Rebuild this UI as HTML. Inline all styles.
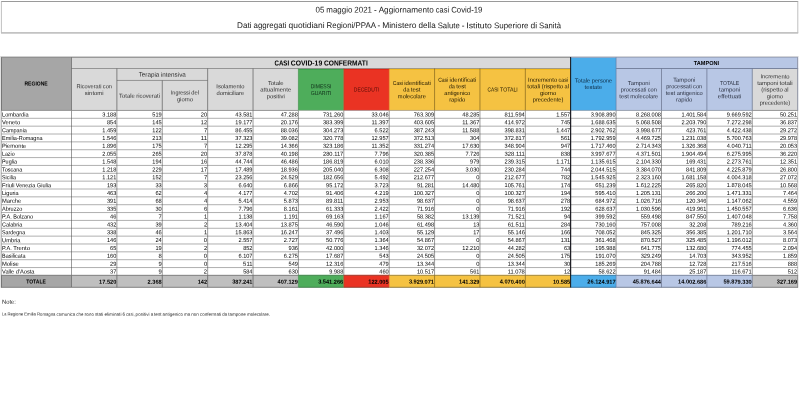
<!DOCTYPE html>
<html lang="it"><head><meta charset="utf-8"><title>Aggiornamento casi Covid-19</title>
<style>
html,body{margin:0;padding:0;background:#fff;}
body{width:800px;height:400px;overflow:hidden;}
svg{display:block;will-change:transform;font-family:"Liberation Sans",sans-serif;}
</style></head><body>
<svg width="800" height="400" viewBox="0 0 800 400">
<rect x="0" y="0" width="800" height="400" fill="#fff"/>
<line x1="1.00" y1="1.50" x2="798.20" y2="1.50" stroke="#8f8f8f" stroke-width="0.9"/>
<line x1="1.00" y1="32.95" x2="798.20" y2="32.95" stroke="#8f8f8f" stroke-width="0.95"/>
<line x1="1.40" y1="1.50" x2="1.40" y2="32.95" stroke="#bdbdbd" stroke-width="0.95"/>
<line x1="797.80" y1="1.50" x2="797.80" y2="32.95" stroke="#bdbdbd" stroke-width="0.95"/>
<text y="12.50" transform="rotate(.05 399.0 12.5)" font-size="8.22" fill="#1a1a1a"><tspan x="315.52" textLength="8.86" lengthAdjust="spacingAndGlyphs">05</tspan> <tspan x="326.36" textLength="26.01" lengthAdjust="spacingAndGlyphs">maggio</tspan> <tspan x="354.35" textLength="17.72" lengthAdjust="spacingAndGlyphs">2021</tspan> <tspan x="374.05">-</tspan> <tspan x="378.70" textLength="55.18" lengthAdjust="spacingAndGlyphs">Aggiornamento</tspan> <tspan x="435.86" textLength="13.30" lengthAdjust="spacingAndGlyphs">casi</tspan> <tspan x="451.13" textLength="31.34" lengthAdjust="spacingAndGlyphs">Covid-19</tspan></text>
<text y="28.10" transform="rotate(.05 399.0 28.1)" font-size="8.22" fill="#1a1a1a"><tspan x="237.03" textLength="14.49" lengthAdjust="spacingAndGlyphs">Dati</tspan> <tspan x="253.50" textLength="33.05" lengthAdjust="spacingAndGlyphs">aggregati</tspan> <tspan x="288.53" textLength="36.08" lengthAdjust="spacingAndGlyphs">quotidiani</tspan> <tspan x="326.58" textLength="48.94" lengthAdjust="spacingAndGlyphs">Regioni/PPAA</tspan> <tspan x="377.50">-</tspan> <tspan x="382.15" textLength="34.42" lengthAdjust="spacingAndGlyphs">Ministero</tspan> <tspan x="418.55" textLength="17.13" lengthAdjust="spacingAndGlyphs">della</tspan> <tspan x="437.65" textLength="22.07" lengthAdjust="spacingAndGlyphs">Salute</tspan> <tspan x="461.70">-</tspan> <tspan x="466.35" textLength="25.60" lengthAdjust="spacingAndGlyphs">Istituto</tspan> <tspan x="493.92" textLength="34.60" lengthAdjust="spacingAndGlyphs">Superiore</tspan> <tspan x="530.50" textLength="6.59" lengthAdjust="spacingAndGlyphs">di</tspan> <tspan x="539.06" textLength="21.90" lengthAdjust="spacingAndGlyphs">Sanità</tspan></text>
<line x1="0.50" y1="57.00" x2="0.50" y2="287.80" stroke="#e2e2e2" stroke-width="1.0"/>
<line x1="0.00" y1="56.50" x2="798.60" y2="56.50" stroke="#dedede" stroke-width="1.0"/>
<rect x="1.00" y="57.40" width="70.50" height="52.60" fill="#A6A6A6"/>
<rect x="71.50" y="57.40" width="499.23" height="11.10" fill="#D9D9D9"/>
<rect x="71.50" y="68.50" width="226.92" height="41.50" fill="#D9D9D9"/>
<rect x="298.42" y="68.95" width="45.38" height="41.05" fill="#4EAD5B"/>
<rect x="343.81" y="68.95" width="45.38" height="41.05" fill="#EA3323"/>
<rect x="389.19" y="68.95" width="181.54" height="41.05" fill="#F5C242"/>
<rect x="570.73" y="57.40" width="45.38" height="52.60" fill="#4BADEA"/>
<rect x="616.11" y="57.40" width="181.99" height="52.60" fill="#B8C7E5"/>
<rect x="752.27" y="68.50" width="45.83" height="41.50" fill="#D9D9D9"/>
<rect x="1.00" y="274.85" width="70.50" height="12.45" fill="#A6A6A6"/>
<rect x="71.50" y="274.85" width="226.92" height="12.45" fill="#BFBFBF"/>
<rect x="298.42" y="274.85" width="45.38" height="12.45" fill="#4EAD5B"/>
<rect x="343.81" y="274.85" width="45.38" height="12.45" fill="#EA3323"/>
<rect x="389.19" y="274.85" width="181.54" height="12.45" fill="#F5C242"/>
<rect x="570.73" y="274.85" width="45.38" height="12.45" fill="#4BADEA"/>
<rect x="616.11" y="274.85" width="136.15" height="12.45" fill="#B8C7E5"/>
<rect x="752.27" y="274.85" width="45.83" height="12.45" fill="#BFBFBF"/>
<line x1="1.00" y1="118.30" x2="798.10" y2="118.30" stroke="#959595" stroke-width="0.75"/>
<line x1="1.00" y1="126.16" x2="798.10" y2="126.16" stroke="#959595" stroke-width="0.75"/>
<line x1="1.00" y1="134.01" x2="798.10" y2="134.01" stroke="#959595" stroke-width="0.75"/>
<line x1="1.00" y1="141.87" x2="798.10" y2="141.87" stroke="#959595" stroke-width="0.75"/>
<line x1="1.00" y1="149.72" x2="798.10" y2="149.72" stroke="#959595" stroke-width="0.75"/>
<line x1="1.00" y1="157.58" x2="798.10" y2="157.58" stroke="#959595" stroke-width="0.75"/>
<line x1="1.00" y1="165.43" x2="798.10" y2="165.43" stroke="#959595" stroke-width="0.75"/>
<line x1="1.00" y1="173.29" x2="798.10" y2="173.29" stroke="#959595" stroke-width="0.75"/>
<line x1="1.00" y1="181.14" x2="798.10" y2="181.14" stroke="#959595" stroke-width="0.75"/>
<line x1="1.00" y1="189.00" x2="798.10" y2="189.00" stroke="#959595" stroke-width="0.75"/>
<line x1="1.00" y1="196.85" x2="798.10" y2="196.85" stroke="#959595" stroke-width="0.75"/>
<line x1="1.00" y1="204.71" x2="798.10" y2="204.71" stroke="#959595" stroke-width="0.75"/>
<line x1="1.00" y1="212.56" x2="798.10" y2="212.56" stroke="#959595" stroke-width="0.75"/>
<line x1="1.00" y1="220.42" x2="798.10" y2="220.42" stroke="#959595" stroke-width="0.75"/>
<line x1="1.00" y1="228.27" x2="798.10" y2="228.27" stroke="#959595" stroke-width="0.75"/>
<line x1="1.00" y1="236.13" x2="798.10" y2="236.13" stroke="#959595" stroke-width="0.75"/>
<line x1="1.00" y1="243.98" x2="798.10" y2="243.98" stroke="#959595" stroke-width="0.75"/>
<line x1="1.00" y1="251.84" x2="798.10" y2="251.84" stroke="#959595" stroke-width="0.75"/>
<line x1="1.00" y1="259.69" x2="798.10" y2="259.69" stroke="#959595" stroke-width="0.75"/>
<line x1="1.00" y1="267.55" x2="798.10" y2="267.55" stroke="#959595" stroke-width="0.75"/>
<line x1="1.50" y1="110.45" x2="1.50" y2="275.40" stroke="#8a8a8a" stroke-width="0.55"/>
<line x1="71.50" y1="110.45" x2="71.50" y2="275.40" stroke="#4a4a4a" stroke-width="0.55"/>
<line x1="116.88" y1="110.45" x2="116.88" y2="275.40" stroke="#4a4a4a" stroke-width="0.55"/>
<line x1="162.27" y1="110.45" x2="162.27" y2="275.40" stroke="#4a4a4a" stroke-width="0.55"/>
<line x1="207.65" y1="110.45" x2="207.65" y2="275.40" stroke="#4a4a4a" stroke-width="0.55"/>
<line x1="253.04" y1="110.45" x2="253.04" y2="275.40" stroke="#4a4a4a" stroke-width="0.55"/>
<line x1="298.42" y1="110.45" x2="298.42" y2="275.40" stroke="#4a4a4a" stroke-width="0.55"/>
<line x1="343.81" y1="110.45" x2="343.81" y2="275.40" stroke="#4a4a4a" stroke-width="0.55"/>
<line x1="389.19" y1="110.45" x2="389.19" y2="275.40" stroke="#4a4a4a" stroke-width="0.55"/>
<line x1="434.57" y1="110.45" x2="434.57" y2="275.40" stroke="#4a4a4a" stroke-width="0.55"/>
<line x1="479.96" y1="110.45" x2="479.96" y2="275.40" stroke="#4a4a4a" stroke-width="0.55"/>
<line x1="525.34" y1="110.45" x2="525.34" y2="275.40" stroke="#4a4a4a" stroke-width="0.55"/>
<line x1="570.73" y1="110.45" x2="570.73" y2="275.40" stroke="#4a4a4a" stroke-width="0.55"/>
<line x1="616.11" y1="110.45" x2="616.11" y2="275.40" stroke="#4a4a4a" stroke-width="0.55"/>
<line x1="661.50" y1="110.45" x2="661.50" y2="275.40" stroke="#4a4a4a" stroke-width="0.55"/>
<line x1="706.88" y1="110.45" x2="706.88" y2="275.40" stroke="#4a4a4a" stroke-width="0.55"/>
<line x1="752.27" y1="110.45" x2="752.27" y2="275.40" stroke="#4a4a4a" stroke-width="0.55"/>
<line x1="797.65" y1="110.45" x2="797.65" y2="275.40" stroke="#8a8a8a" stroke-width="0.55"/>
<line x1="1.00" y1="57.35" x2="570.73" y2="57.35" stroke="#808080" stroke-width="0.9"/>
<line x1="570.73" y1="57.35" x2="798.10" y2="57.35" stroke="#8f9bb5" stroke-width="0.9"/>
<line x1="1.00" y1="110.45" x2="71.50" y2="110.45" stroke="#8a8a8a" stroke-width="0.9"/>
<line x1="71.50" y1="110.45" x2="298.42" y2="110.45" stroke="#8a8a8a" stroke-width="0.9"/>
<line x1="298.42" y1="110.45" x2="343.81" y2="110.45" stroke="#8fa890" stroke-width="0.9"/>
<line x1="343.81" y1="110.45" x2="389.19" y2="110.45" stroke="#b08080" stroke-width="0.9"/>
<line x1="389.19" y1="110.45" x2="570.73" y2="110.45" stroke="#b0a080" stroke-width="0.9"/>
<line x1="570.73" y1="110.45" x2="616.11" y2="110.45" stroke="#7f9fb8" stroke-width="0.9"/>
<line x1="616.11" y1="110.45" x2="752.27" y2="110.45" stroke="#8f98a8" stroke-width="0.9"/>
<line x1="752.27" y1="110.45" x2="798.10" y2="110.45" stroke="#8a8a8a" stroke-width="0.9"/>
<line x1="1.00" y1="275.40" x2="71.50" y2="275.40" stroke="#808080" stroke-width="0.9"/>
<line x1="71.50" y1="275.40" x2="298.42" y2="275.40" stroke="#808080" stroke-width="0.9"/>
<line x1="298.42" y1="275.40" x2="343.81" y2="275.40" stroke="#4f8a58" stroke-width="0.9"/>
<line x1="343.81" y1="275.40" x2="389.19" y2="275.40" stroke="#a0483c" stroke-width="0.9"/>
<line x1="389.19" y1="275.40" x2="570.73" y2="275.40" stroke="#a08a48" stroke-width="0.9"/>
<line x1="570.73" y1="275.40" x2="616.11" y2="275.40" stroke="#3f80a8" stroke-width="0.9"/>
<line x1="616.11" y1="275.40" x2="752.27" y2="275.40" stroke="#7f8aa0" stroke-width="0.9"/>
<line x1="752.27" y1="275.40" x2="798.10" y2="275.40" stroke="#808080" stroke-width="0.9"/>
<line x1="1.00" y1="287.30" x2="71.50" y2="287.30" stroke="#777" stroke-width="0.9"/>
<line x1="71.50" y1="287.30" x2="298.42" y2="287.30" stroke="#777" stroke-width="0.9"/>
<line x1="298.42" y1="287.30" x2="343.81" y2="287.30" stroke="#3f7a48" stroke-width="0.9"/>
<line x1="343.81" y1="287.30" x2="389.19" y2="287.30" stroke="#8a3c30" stroke-width="0.9"/>
<line x1="389.19" y1="287.30" x2="570.73" y2="287.30" stroke="#8a7438" stroke-width="0.9"/>
<line x1="570.73" y1="287.30" x2="616.11" y2="287.30" stroke="#35709a" stroke-width="0.9"/>
<line x1="616.11" y1="287.30" x2="752.27" y2="287.30" stroke="#6f7a90" stroke-width="0.9"/>
<line x1="752.27" y1="287.30" x2="798.10" y2="287.30" stroke="#777" stroke-width="0.9"/>
<line x1="71.50" y1="68.50" x2="570.73" y2="68.50" stroke="#8c8c8c" stroke-width="0.9"/>
<line x1="298.42" y1="69.30" x2="343.81" y2="69.30" stroke="#2f9a40" stroke-width="0.7"/>
<line x1="343.81" y1="69.30" x2="389.19" y2="69.30" stroke="#e01a0c" stroke-width="0.7"/>
<line x1="389.19" y1="69.30" x2="570.73" y2="69.30" stroke="#f0b400" stroke-width="0.7"/>
<line x1="616.11" y1="68.50" x2="798.10" y2="68.50" stroke="#6f7c96" stroke-width="0.9"/>
<line x1="116.88" y1="80.45" x2="207.65" y2="80.45" stroke="#8c8c8c" stroke-width="0.9"/>
<line x1="1.50" y1="57.35" x2="1.50" y2="110.45" stroke="#707070" stroke-width="0.9"/>
<line x1="71.50" y1="57.35" x2="71.50" y2="110.45" stroke="#5a5a5a" stroke-width="0.7"/>
<line x1="797.65" y1="57.35" x2="797.65" y2="110.45" stroke="#8a90a0" stroke-width="0.9"/>
<line x1="116.88" y1="68.50" x2="116.88" y2="110.45" stroke="#5a5a5a" stroke-width="0.7"/>
<line x1="162.27" y1="80.45" x2="162.27" y2="110.45" stroke="#5a5a5a" stroke-width="0.7"/>
<line x1="207.65" y1="68.50" x2="207.65" y2="110.45" stroke="#5a5a5a" stroke-width="0.7"/>
<line x1="253.04" y1="68.50" x2="253.04" y2="110.45" stroke="#5a5a5a" stroke-width="0.7"/>
<line x1="298.42" y1="68.50" x2="298.42" y2="110.45" stroke="#3f8f4a" stroke-width="0.7"/>
<line x1="343.81" y1="68.50" x2="343.81" y2="110.45" stroke="#9a5a28" stroke-width="0.7"/>
<line x1="389.19" y1="68.50" x2="389.19" y2="110.45" stroke="#e06a20" stroke-width="0.7"/>
<line x1="434.57" y1="68.50" x2="434.57" y2="110.45" stroke="#6e5618" stroke-width="0.6"/>
<line x1="479.96" y1="68.50" x2="479.96" y2="110.45" stroke="#6e5618" stroke-width="0.6"/>
<line x1="525.34" y1="68.50" x2="525.34" y2="110.45" stroke="#6e5618" stroke-width="0.6"/>
<line x1="616.11" y1="57.35" x2="616.11" y2="110.45" stroke="#5f7aa8" stroke-width="0.7"/>
<line x1="661.50" y1="68.50" x2="661.50" y2="110.45" stroke="#66708a" stroke-width="0.7"/>
<line x1="706.88" y1="68.50" x2="706.88" y2="110.45" stroke="#66708a" stroke-width="0.7"/>
<line x1="752.27" y1="68.50" x2="752.27" y2="110.45" stroke="#66708a" stroke-width="0.7"/>
<line x1="1.50" y1="275.40" x2="1.50" y2="287.30" stroke="#707070" stroke-width="0.9"/>
<line x1="71.50" y1="275.40" x2="71.50" y2="287.30" stroke="#5a5a5a" stroke-width="0.7"/>
<line x1="797.65" y1="275.40" x2="797.65" y2="287.30" stroke="#888" stroke-width="0.9"/>
<line x1="116.88" y1="275.40" x2="116.88" y2="287.30" stroke="#5a5a5a" stroke-width="0.7"/>
<line x1="162.27" y1="275.40" x2="162.27" y2="287.30" stroke="#5a5a5a" stroke-width="0.7"/>
<line x1="207.65" y1="275.40" x2="207.65" y2="287.30" stroke="#5a5a5a" stroke-width="0.7"/>
<line x1="253.04" y1="275.40" x2="253.04" y2="287.30" stroke="#5a5a5a" stroke-width="0.7"/>
<line x1="298.42" y1="275.40" x2="298.42" y2="287.30" stroke="#3f8f4a" stroke-width="0.7"/>
<line x1="343.81" y1="275.40" x2="343.81" y2="287.30" stroke="#9a5a28" stroke-width="0.7"/>
<line x1="389.19" y1="275.40" x2="389.19" y2="287.30" stroke="#e06a20" stroke-width="0.7"/>
<line x1="434.57" y1="275.40" x2="434.57" y2="287.30" stroke="#6e5618" stroke-width="0.6"/>
<line x1="479.96" y1="275.40" x2="479.96" y2="287.30" stroke="#6e5618" stroke-width="0.6"/>
<line x1="525.34" y1="275.40" x2="525.34" y2="287.30" stroke="#6e5618" stroke-width="0.6"/>
<line x1="616.11" y1="275.40" x2="616.11" y2="287.30" stroke="#5f7aa8" stroke-width="0.7"/>
<line x1="661.50" y1="275.40" x2="661.50" y2="287.30" stroke="#66708a" stroke-width="0.7"/>
<line x1="706.88" y1="275.40" x2="706.88" y2="287.30" stroke="#66708a" stroke-width="0.7"/>
<line x1="752.27" y1="275.40" x2="752.27" y2="287.30" stroke="#66708a" stroke-width="0.7"/>
<line x1="570.63" y1="57.05" x2="570.63" y2="287.50" stroke="#0c0c14" stroke-width="1.0"/>
<text x="36.10" y="85.40" transform="rotate(.05 36.1 85.4)" font-size="5.78" font-weight="bold" fill="#000" text-anchor="middle" textLength="23.23" lengthAdjust="spacingAndGlyphs">REGIONE</text>
<text y="65.50" transform="rotate(.05 321.1 65.5)" font-size="7.33" font-weight="bold" fill="#000"><tspan x="274.49" textLength="14.62" lengthAdjust="spacingAndGlyphs">CASI</tspan> <tspan x="290.87" textLength="31.30" lengthAdjust="spacingAndGlyphs">COVID-19</tspan> <tspan x="323.94" textLength="43.80" lengthAdjust="spacingAndGlyphs">CONFERMATI</tspan></text>
<text x="706.48" y="64.90" transform="rotate(.05 706.5 64.9)" font-size="5.78" font-weight="bold" fill="#000" text-anchor="middle" textLength="25.27" lengthAdjust="spacingAndGlyphs">TAMPONI</text>
<text y="88.31" transform="rotate(.05 94.2 88.3)" font-size="5.78" fill="#303030"><tspan x="76.46" textLength="24.99" lengthAdjust="spacingAndGlyphs">Ricoverati</tspan> <tspan x="102.85" textLength="9.07" lengthAdjust="spacingAndGlyphs">con</tspan></text>
<text x="94.19" y="94.93" transform="rotate(.05 94.2 94.9)" font-size="5.78" fill="#303030" text-anchor="middle" textLength="18.67" lengthAdjust="spacingAndGlyphs">sintomi</text>
<text y="76.65" transform="rotate(.05 162.3 76.7)" font-size="6.39" fill="#303030"><tspan x="138.69" textLength="20.71" lengthAdjust="spacingAndGlyphs">Terapia</tspan> <tspan x="160.94" textLength="24.91" lengthAdjust="spacingAndGlyphs">intensiva</tspan></text>
<text y="97.85" transform="rotate(.05 139.6 97.8)" font-size="5.78" fill="#303030"><tspan x="119.12" textLength="15.71" lengthAdjust="spacingAndGlyphs">Totale</tspan> <tspan x="136.23" textLength="23.80" lengthAdjust="spacingAndGlyphs">ricoverati</tspan></text>
<text y="94.54" transform="rotate(.05 185.0 94.5)" font-size="5.78" fill="#303030"><tspan x="170.87" textLength="19.10" lengthAdjust="spacingAndGlyphs">Ingressi</tspan> <tspan x="191.36" textLength="7.70" lengthAdjust="spacingAndGlyphs">del</tspan></text>
<text x="184.96" y="101.16" transform="rotate(.05 185.0 101.2)" font-size="5.78" fill="#303030" text-anchor="middle" textLength="16.16" lengthAdjust="spacingAndGlyphs">giorno</text>
<text x="230.35" y="88.31" transform="rotate(.05 230.3 88.3)" font-size="5.78" fill="#303030" text-anchor="middle" textLength="28.06" lengthAdjust="spacingAndGlyphs">Isolamento</text>
<text x="230.35" y="94.93" transform="rotate(.05 230.3 94.9)" font-size="5.78" fill="#303030" text-anchor="middle" textLength="27.77" lengthAdjust="spacingAndGlyphs">domiciliare</text>
<text x="275.73" y="85.00" transform="rotate(.05 275.7 85.0)" font-size="5.78" fill="#303030" text-anchor="middle" textLength="15.71" lengthAdjust="spacingAndGlyphs">Totale</text>
<text x="275.73" y="91.62" transform="rotate(.05 275.7 91.6)" font-size="5.78" fill="#303030" text-anchor="middle" textLength="30.98" lengthAdjust="spacingAndGlyphs">attualmente</text>
<text x="275.73" y="98.24" transform="rotate(.05 275.7 98.2)" font-size="5.78" fill="#303030" text-anchor="middle" textLength="17.94" lengthAdjust="spacingAndGlyphs">positivi</text>
<text x="321.11" y="88.31" transform="rotate(.05 321.1 88.3)" font-size="5.78" fill="#10301a" text-anchor="middle" textLength="20.79" lengthAdjust="spacingAndGlyphs">DIMESSI</text>
<text x="321.11" y="94.93" transform="rotate(.05 321.1 94.9)" font-size="5.78" fill="#10301a" text-anchor="middle" textLength="20.82" lengthAdjust="spacingAndGlyphs">GUARITI</text>
<text x="366.50" y="91.62" transform="rotate(.05 366.5 91.6)" font-size="5.78" fill="#5a0d08" text-anchor="middle" textLength="25.34" lengthAdjust="spacingAndGlyphs">DECEDUTI</text>
<text y="85.00" transform="rotate(.05 411.9 85.0)" font-size="5.78" fill="#1c1500"><tspan x="392.82" textLength="10.04" lengthAdjust="spacingAndGlyphs">Casi</tspan> <tspan x="404.25" textLength="26.70" lengthAdjust="spacingAndGlyphs">identificati</tspan></text>
<text y="91.62" transform="rotate(.05 411.9 91.6)" font-size="5.78" fill="#1c1500"><tspan x="403.31" textLength="6.17" lengthAdjust="spacingAndGlyphs">da</tspan> <tspan x="410.87" textLength="9.59" lengthAdjust="spacingAndGlyphs">test</tspan></text>
<text x="411.88" y="98.24" transform="rotate(.05 411.9 98.2)" font-size="5.78" fill="#1c1500" text-anchor="middle" textLength="28.03" lengthAdjust="spacingAndGlyphs">molecolare</text>
<text y="81.69" transform="rotate(.05 457.3 81.7)" font-size="5.78" fill="#1c1500"><tspan x="438.21" textLength="10.04" lengthAdjust="spacingAndGlyphs">Casi</tspan> <tspan x="449.63" textLength="26.70" lengthAdjust="spacingAndGlyphs">identificati</tspan></text>
<text y="88.31" transform="rotate(.05 457.3 88.3)" font-size="5.78" fill="#1c1500"><tspan x="448.69" textLength="6.17" lengthAdjust="spacingAndGlyphs">da</tspan> <tspan x="456.26" textLength="9.59" lengthAdjust="spacingAndGlyphs">test</tspan></text>
<text x="457.27" y="94.93" transform="rotate(.05 457.3 94.9)" font-size="5.78" fill="#1c1500" text-anchor="middle" textLength="26.08" lengthAdjust="spacingAndGlyphs">antigenico</text>
<text x="457.27" y="101.55" transform="rotate(.05 457.3 101.6)" font-size="5.78" fill="#1c1500" text-anchor="middle" textLength="16.20" lengthAdjust="spacingAndGlyphs">rapido</text>
<text y="91.62" transform="rotate(.05 502.7 91.6)" font-size="5.78" fill="#1c1500"><tspan x="487.47" textLength="11.21" lengthAdjust="spacingAndGlyphs">CASI</tspan> <tspan x="500.07" textLength="17.76" lengthAdjust="spacingAndGlyphs">TOTALI</tspan></text>
<text y="81.69" transform="rotate(.05 548.0 81.7)" font-size="5.78" fill="#1c1500"><tspan x="528.11" textLength="29.10" lengthAdjust="spacingAndGlyphs">Incremento</tspan> <tspan x="558.60" textLength="9.36" lengthAdjust="spacingAndGlyphs">casi</tspan></text>
<text y="88.31" transform="rotate(.05 548.0 88.3)" font-size="5.78" fill="#1c1500"><tspan x="527.17" textLength="13.12" lengthAdjust="spacingAndGlyphs">totali</tspan> <tspan x="541.68" textLength="21.48" lengthAdjust="spacingAndGlyphs">(rispetto</tspan> <tspan x="564.55" textLength="4.35" lengthAdjust="spacingAndGlyphs">al</tspan></text>
<text x="548.04" y="94.93" transform="rotate(.05 548.0 94.9)" font-size="5.78" fill="#1c1500" text-anchor="middle" textLength="16.16" lengthAdjust="spacingAndGlyphs">giorno</text>
<text x="548.04" y="101.55" transform="rotate(.05 548.0 101.6)" font-size="5.78" fill="#1c1500" text-anchor="middle" textLength="30.61" lengthAdjust="spacingAndGlyphs">precedente)</text>
<text y="82.44" transform="rotate(.05 593.4 82.4)" font-size="5.78" fill="#0e2c45"><tspan x="574.68" textLength="15.71" lengthAdjust="spacingAndGlyphs">Totale</tspan> <tspan x="591.78" textLength="20.37" lengthAdjust="spacingAndGlyphs">persone</tspan></text>
<text x="593.42" y="89.06" transform="rotate(.05 593.4 89.1)" font-size="5.78" fill="#0e2c45" text-anchor="middle" textLength="17.66" lengthAdjust="spacingAndGlyphs">testate</text>
<text x="638.80" y="85.00" transform="rotate(.05 638.8 85.0)" font-size="5.78" fill="#2a3040" text-anchor="middle" textLength="21.96" lengthAdjust="spacingAndGlyphs">Tamponi</text>
<text y="91.62" transform="rotate(.05 638.8 91.6)" font-size="5.78" fill="#2a3040"><tspan x="620.82" textLength="25.50" lengthAdjust="spacingAndGlyphs">processati</tspan> <tspan x="647.72" textLength="9.07" lengthAdjust="spacingAndGlyphs">con</tspan></text>
<text y="98.24" transform="rotate(.05 638.8 98.2)" font-size="5.78" fill="#2a3040"><tspan x="619.30" textLength="9.59" lengthAdjust="spacingAndGlyphs">test</tspan> <tspan x="630.28" textLength="28.03" lengthAdjust="spacingAndGlyphs">molecolare</tspan></text>
<text x="684.19" y="81.69" transform="rotate(.05 684.2 81.7)" font-size="5.78" fill="#2a3040" text-anchor="middle" textLength="21.96" lengthAdjust="spacingAndGlyphs">Tamponi</text>
<text y="88.31" transform="rotate(.05 684.2 88.3)" font-size="5.78" fill="#2a3040"><tspan x="666.21" textLength="25.50" lengthAdjust="spacingAndGlyphs">processati</tspan> <tspan x="693.10" textLength="9.07" lengthAdjust="spacingAndGlyphs">con</tspan></text>
<text y="94.93" transform="rotate(.05 684.2 94.9)" font-size="5.78" fill="#2a3040"><tspan x="665.66" textLength="9.59" lengthAdjust="spacingAndGlyphs">test</tspan> <tspan x="676.64" textLength="26.08" lengthAdjust="spacingAndGlyphs">antigenico</tspan></text>
<text x="684.19" y="101.55" transform="rotate(.05 684.2 101.6)" font-size="5.78" fill="#2a3040" text-anchor="middle" textLength="16.20" lengthAdjust="spacingAndGlyphs">rapido</text>
<text x="729.57" y="85.00" transform="rotate(.05 729.6 85.0)" font-size="5.78" fill="#2a3040" text-anchor="middle" textLength="19.21" lengthAdjust="spacingAndGlyphs">TOTALE</text>
<text x="729.57" y="91.62" transform="rotate(.05 729.6 91.6)" font-size="5.78" fill="#2a3040" text-anchor="middle" textLength="21.03" lengthAdjust="spacingAndGlyphs">tamponi</text>
<text x="729.57" y="98.24" transform="rotate(.05 729.6 98.2)" font-size="5.78" fill="#2a3040" text-anchor="middle" textLength="23.64" lengthAdjust="spacingAndGlyphs">effettuati</text>
<text x="774.96" y="78.38" transform="rotate(.05 775.0 78.4)" font-size="5.78" fill="#303030" text-anchor="middle" textLength="29.10" lengthAdjust="spacingAndGlyphs">Incremento</text>
<text y="85.00" transform="rotate(.05 775.0 85.0)" font-size="5.78" fill="#303030"><tspan x="757.19" textLength="21.03" lengthAdjust="spacingAndGlyphs">tamponi</tspan> <tspan x="779.60" textLength="13.12" lengthAdjust="spacingAndGlyphs">totali</tspan></text>
<text y="91.62" transform="rotate(.05 775.0 91.6)" font-size="5.78" fill="#303030"><tspan x="761.35" textLength="21.48" lengthAdjust="spacingAndGlyphs">(rispetto</tspan> <tspan x="784.21" textLength="4.35" lengthAdjust="spacingAndGlyphs">al</tspan></text>
<text x="774.96" y="98.24" transform="rotate(.05 775.0 98.2)" font-size="5.78" fill="#303030" text-anchor="middle" textLength="16.16" lengthAdjust="spacingAndGlyphs">giorno</text>
<text x="774.96" y="104.86" transform="rotate(.05 775.0 104.9)" font-size="5.78" fill="#303030" text-anchor="middle" textLength="30.61" lengthAdjust="spacingAndGlyphs">precedente)</text>
<text x="2.00" y="116.45" transform="rotate(.05 2.0 116.5)" font-size="5.78" fill="#000" textLength="26.64" lengthAdjust="spacingAndGlyphs">Lombardia</text>
<text x="116.33" y="116.45" transform="rotate(.05 116.3 116.5)" font-size="5.78" fill="#000" text-anchor="end" textLength="14.02" lengthAdjust="spacingAndGlyphs">3.188</text>
<text x="161.72" y="116.45" transform="rotate(.05 161.7 116.5)" font-size="5.78" fill="#000" text-anchor="end" textLength="9.35" lengthAdjust="spacingAndGlyphs">519</text>
<text x="207.10" y="116.45" transform="rotate(.05 207.1 116.5)" font-size="5.78" fill="#000" text-anchor="end" textLength="6.24" lengthAdjust="spacingAndGlyphs">20</text>
<text x="252.49" y="116.45" transform="rotate(.05 252.5 116.5)" font-size="5.78" fill="#000" text-anchor="end" textLength="17.14" lengthAdjust="spacingAndGlyphs">43.581</text>
<text x="297.87" y="116.45" transform="rotate(.05 297.9 116.5)" font-size="5.78" fill="#000" text-anchor="end" textLength="17.14" lengthAdjust="spacingAndGlyphs">47.288</text>
<text x="343.26" y="116.45" transform="rotate(.05 343.3 116.5)" font-size="5.78" fill="#000" text-anchor="end" textLength="20.26" lengthAdjust="spacingAndGlyphs">731.260</text>
<text x="388.64" y="116.45" transform="rotate(.05 388.6 116.5)" font-size="5.78" fill="#000" text-anchor="end" textLength="17.14" lengthAdjust="spacingAndGlyphs">33.046</text>
<text x="434.02" y="116.45" transform="rotate(.05 434.0 116.5)" font-size="5.78" fill="#000" text-anchor="end" textLength="20.26" lengthAdjust="spacingAndGlyphs">763.309</text>
<text x="479.41" y="116.45" transform="rotate(.05 479.4 116.5)" font-size="5.78" fill="#000" text-anchor="end" textLength="17.14" lengthAdjust="spacingAndGlyphs">48.285</text>
<text x="524.79" y="116.45" transform="rotate(.05 524.8 116.5)" font-size="5.78" fill="#000" text-anchor="end" textLength="20.26" lengthAdjust="spacingAndGlyphs">811.594</text>
<text x="570.18" y="116.45" transform="rotate(.05 570.2 116.5)" font-size="5.78" fill="#000" text-anchor="end" textLength="14.02" lengthAdjust="spacingAndGlyphs">1.557</text>
<text x="615.56" y="116.45" transform="rotate(.05 615.6 116.5)" font-size="5.78" fill="#000" text-anchor="end" textLength="24.93" lengthAdjust="spacingAndGlyphs">3.908.890</text>
<text x="660.95" y="116.45" transform="rotate(.05 660.9 116.5)" font-size="5.78" fill="#000" text-anchor="end" textLength="24.93" lengthAdjust="spacingAndGlyphs">8.268.008</text>
<text x="706.33" y="116.45" transform="rotate(.05 706.3 116.5)" font-size="5.78" fill="#000" text-anchor="end" textLength="24.93" lengthAdjust="spacingAndGlyphs">1.401.584</text>
<text x="751.72" y="116.45" transform="rotate(.05 751.7 116.5)" font-size="5.78" fill="#000" text-anchor="end" textLength="24.93" lengthAdjust="spacingAndGlyphs">9.669.592</text>
<text x="797.10" y="116.45" transform="rotate(.05 797.1 116.5)" font-size="5.78" fill="#000" text-anchor="end" textLength="17.14" lengthAdjust="spacingAndGlyphs">50.251</text>
<text x="2.00" y="124.31" transform="rotate(.05 2.0 124.3)" font-size="5.78" fill="#000" textLength="18.14" lengthAdjust="spacingAndGlyphs">Veneto</text>
<text x="116.33" y="124.31" transform="rotate(.05 116.3 124.3)" font-size="5.78" fill="#000" text-anchor="end" textLength="9.35" lengthAdjust="spacingAndGlyphs">854</text>
<text x="161.72" y="124.31" transform="rotate(.05 161.7 124.3)" font-size="5.78" fill="#000" text-anchor="end" textLength="9.35" lengthAdjust="spacingAndGlyphs">145</text>
<text x="207.10" y="124.31" transform="rotate(.05 207.1 124.3)" font-size="5.78" fill="#000" text-anchor="end" textLength="6.24" lengthAdjust="spacingAndGlyphs">12</text>
<text x="252.49" y="124.31" transform="rotate(.05 252.5 124.3)" font-size="5.78" fill="#000" text-anchor="end" textLength="17.14" lengthAdjust="spacingAndGlyphs">19.177</text>
<text x="297.87" y="124.31" transform="rotate(.05 297.9 124.3)" font-size="5.78" fill="#000" text-anchor="end" textLength="17.14" lengthAdjust="spacingAndGlyphs">20.176</text>
<text x="343.26" y="124.31" transform="rotate(.05 343.3 124.3)" font-size="5.78" fill="#000" text-anchor="end" textLength="20.26" lengthAdjust="spacingAndGlyphs">383.399</text>
<text x="388.64" y="124.31" transform="rotate(.05 388.6 124.3)" font-size="5.78" fill="#000" text-anchor="end" textLength="17.14" lengthAdjust="spacingAndGlyphs">11.397</text>
<text x="434.02" y="124.31" transform="rotate(.05 434.0 124.3)" font-size="5.78" fill="#000" text-anchor="end" textLength="20.26" lengthAdjust="spacingAndGlyphs">403.605</text>
<text x="479.41" y="124.31" transform="rotate(.05 479.4 124.3)" font-size="5.78" fill="#000" text-anchor="end" textLength="17.14" lengthAdjust="spacingAndGlyphs">11.367</text>
<text x="524.79" y="124.31" transform="rotate(.05 524.8 124.3)" font-size="5.78" fill="#000" text-anchor="end" textLength="20.26" lengthAdjust="spacingAndGlyphs">414.972</text>
<text x="570.18" y="124.31" transform="rotate(.05 570.2 124.3)" font-size="5.78" fill="#000" text-anchor="end" textLength="9.35" lengthAdjust="spacingAndGlyphs">745</text>
<text x="615.56" y="124.31" transform="rotate(.05 615.6 124.3)" font-size="5.78" fill="#000" text-anchor="end" textLength="24.93" lengthAdjust="spacingAndGlyphs">1.688.635</text>
<text x="660.95" y="124.31" transform="rotate(.05 660.9 124.3)" font-size="5.78" fill="#000" text-anchor="end" textLength="24.93" lengthAdjust="spacingAndGlyphs">5.068.508</text>
<text x="706.33" y="124.31" transform="rotate(.05 706.3 124.3)" font-size="5.78" fill="#000" text-anchor="end" textLength="24.93" lengthAdjust="spacingAndGlyphs">2.203.790</text>
<text x="751.72" y="124.31" transform="rotate(.05 751.7 124.3)" font-size="5.78" fill="#000" text-anchor="end" textLength="24.93" lengthAdjust="spacingAndGlyphs">7.272.298</text>
<text x="797.10" y="124.31" transform="rotate(.05 797.1 124.3)" font-size="5.78" fill="#000" text-anchor="end" textLength="17.14" lengthAdjust="spacingAndGlyphs">36.837</text>
<text x="2.00" y="132.16" transform="rotate(.05 2.0 132.2)" font-size="5.78" fill="#000" textLength="24.90" lengthAdjust="spacingAndGlyphs">Campania</text>
<text x="116.33" y="132.16" transform="rotate(.05 116.3 132.2)" font-size="5.78" fill="#000" text-anchor="end" textLength="14.02" lengthAdjust="spacingAndGlyphs">1.459</text>
<text x="161.72" y="132.16" transform="rotate(.05 161.7 132.2)" font-size="5.78" fill="#000" text-anchor="end" textLength="9.35" lengthAdjust="spacingAndGlyphs">122</text>
<text x="207.10" y="132.16" transform="rotate(.05 207.1 132.2)" font-size="5.78" fill="#000" text-anchor="end">7</text>
<text x="252.49" y="132.16" transform="rotate(.05 252.5 132.2)" font-size="5.78" fill="#000" text-anchor="end" textLength="17.14" lengthAdjust="spacingAndGlyphs">86.455</text>
<text x="297.87" y="132.16" transform="rotate(.05 297.9 132.2)" font-size="5.78" fill="#000" text-anchor="end" textLength="17.14" lengthAdjust="spacingAndGlyphs">88.036</text>
<text x="343.26" y="132.16" transform="rotate(.05 343.3 132.2)" font-size="5.78" fill="#000" text-anchor="end" textLength="20.26" lengthAdjust="spacingAndGlyphs">304.273</text>
<text x="388.64" y="132.16" transform="rotate(.05 388.6 132.2)" font-size="5.78" fill="#000" text-anchor="end" textLength="14.02" lengthAdjust="spacingAndGlyphs">6.522</text>
<text x="434.02" y="132.16" transform="rotate(.05 434.0 132.2)" font-size="5.78" fill="#000" text-anchor="end" textLength="20.26" lengthAdjust="spacingAndGlyphs">387.243</text>
<text x="479.41" y="132.16" transform="rotate(.05 479.4 132.2)" font-size="5.78" fill="#000" text-anchor="end" textLength="17.14" lengthAdjust="spacingAndGlyphs">11.588</text>
<text x="524.79" y="132.16" transform="rotate(.05 524.8 132.2)" font-size="5.78" fill="#000" text-anchor="end" textLength="20.26" lengthAdjust="spacingAndGlyphs">398.831</text>
<text x="570.18" y="132.16" transform="rotate(.05 570.2 132.2)" font-size="5.78" fill="#000" text-anchor="end" textLength="14.02" lengthAdjust="spacingAndGlyphs">1.447</text>
<text x="615.56" y="132.16" transform="rotate(.05 615.6 132.2)" font-size="5.78" fill="#000" text-anchor="end" textLength="24.93" lengthAdjust="spacingAndGlyphs">2.902.762</text>
<text x="660.95" y="132.16" transform="rotate(.05 660.9 132.2)" font-size="5.78" fill="#000" text-anchor="end" textLength="24.93" lengthAdjust="spacingAndGlyphs">3.998.677</text>
<text x="706.33" y="132.16" transform="rotate(.05 706.3 132.2)" font-size="5.78" fill="#000" text-anchor="end" textLength="20.26" lengthAdjust="spacingAndGlyphs">423.761</text>
<text x="751.72" y="132.16" transform="rotate(.05 751.7 132.2)" font-size="5.78" fill="#000" text-anchor="end" textLength="24.93" lengthAdjust="spacingAndGlyphs">4.422.438</text>
<text x="797.10" y="132.16" transform="rotate(.05 797.1 132.2)" font-size="5.78" fill="#000" text-anchor="end" textLength="17.14" lengthAdjust="spacingAndGlyphs">29.272</text>
<text x="2.00" y="140.02" transform="rotate(.05 2.0 140.0)" font-size="5.78" fill="#000" textLength="40.48" lengthAdjust="spacingAndGlyphs">Emilia-Romagna</text>
<text x="116.33" y="140.02" transform="rotate(.05 116.3 140.0)" font-size="5.78" fill="#000" text-anchor="end" textLength="14.02" lengthAdjust="spacingAndGlyphs">1.546</text>
<text x="161.72" y="140.02" transform="rotate(.05 161.7 140.0)" font-size="5.78" fill="#000" text-anchor="end" textLength="9.35" lengthAdjust="spacingAndGlyphs">213</text>
<text x="207.10" y="140.02" transform="rotate(.05 207.1 140.0)" font-size="5.78" fill="#000" text-anchor="end" textLength="6.24" lengthAdjust="spacingAndGlyphs">11</text>
<text x="252.49" y="140.02" transform="rotate(.05 252.5 140.0)" font-size="5.78" fill="#000" text-anchor="end" textLength="17.14" lengthAdjust="spacingAndGlyphs">37.323</text>
<text x="297.87" y="140.02" transform="rotate(.05 297.9 140.0)" font-size="5.78" fill="#000" text-anchor="end" textLength="17.14" lengthAdjust="spacingAndGlyphs">39.082</text>
<text x="343.26" y="140.02" transform="rotate(.05 343.3 140.0)" font-size="5.78" fill="#000" text-anchor="end" textLength="20.26" lengthAdjust="spacingAndGlyphs">320.778</text>
<text x="388.64" y="140.02" transform="rotate(.05 388.6 140.0)" font-size="5.78" fill="#000" text-anchor="end" textLength="17.14" lengthAdjust="spacingAndGlyphs">12.957</text>
<text x="434.02" y="140.02" transform="rotate(.05 434.0 140.0)" font-size="5.78" fill="#000" text-anchor="end" textLength="20.26" lengthAdjust="spacingAndGlyphs">372.513</text>
<text x="479.41" y="140.02" transform="rotate(.05 479.4 140.0)" font-size="5.78" fill="#000" text-anchor="end" textLength="9.35" lengthAdjust="spacingAndGlyphs">304</text>
<text x="524.79" y="140.02" transform="rotate(.05 524.8 140.0)" font-size="5.78" fill="#000" text-anchor="end" textLength="20.26" lengthAdjust="spacingAndGlyphs">372.817</text>
<text x="570.18" y="140.02" transform="rotate(.05 570.2 140.0)" font-size="5.78" fill="#000" text-anchor="end" textLength="9.35" lengthAdjust="spacingAndGlyphs">561</text>
<text x="615.56" y="140.02" transform="rotate(.05 615.6 140.0)" font-size="5.78" fill="#000" text-anchor="end" textLength="24.93" lengthAdjust="spacingAndGlyphs">1.792.959</text>
<text x="660.95" y="140.02" transform="rotate(.05 660.9 140.0)" font-size="5.78" fill="#000" text-anchor="end" textLength="24.93" lengthAdjust="spacingAndGlyphs">4.469.725</text>
<text x="706.33" y="140.02" transform="rotate(.05 706.3 140.0)" font-size="5.78" fill="#000" text-anchor="end" textLength="24.93" lengthAdjust="spacingAndGlyphs">1.231.038</text>
<text x="751.72" y="140.02" transform="rotate(.05 751.7 140.0)" font-size="5.78" fill="#000" text-anchor="end" textLength="24.93" lengthAdjust="spacingAndGlyphs">5.700.763</text>
<text x="797.10" y="140.02" transform="rotate(.05 797.1 140.0)" font-size="5.78" fill="#000" text-anchor="end" textLength="17.14" lengthAdjust="spacingAndGlyphs">29.978</text>
<text x="2.00" y="147.87" transform="rotate(.05 2.0 147.9)" font-size="5.78" fill="#000" textLength="24.16" lengthAdjust="spacingAndGlyphs">Piemonte</text>
<text x="116.33" y="147.87" transform="rotate(.05 116.3 147.9)" font-size="5.78" fill="#000" text-anchor="end" textLength="14.02" lengthAdjust="spacingAndGlyphs">1.896</text>
<text x="161.72" y="147.87" transform="rotate(.05 161.7 147.9)" font-size="5.78" fill="#000" text-anchor="end" textLength="9.35" lengthAdjust="spacingAndGlyphs">175</text>
<text x="207.10" y="147.87" transform="rotate(.05 207.1 147.9)" font-size="5.78" fill="#000" text-anchor="end">7</text>
<text x="252.49" y="147.87" transform="rotate(.05 252.5 147.9)" font-size="5.78" fill="#000" text-anchor="end" textLength="17.14" lengthAdjust="spacingAndGlyphs">12.295</text>
<text x="297.87" y="147.87" transform="rotate(.05 297.9 147.9)" font-size="5.78" fill="#000" text-anchor="end" textLength="17.14" lengthAdjust="spacingAndGlyphs">14.366</text>
<text x="343.26" y="147.87" transform="rotate(.05 343.3 147.9)" font-size="5.78" fill="#000" text-anchor="end" textLength="20.26" lengthAdjust="spacingAndGlyphs">323.186</text>
<text x="388.64" y="147.87" transform="rotate(.05 388.6 147.9)" font-size="5.78" fill="#000" text-anchor="end" textLength="17.14" lengthAdjust="spacingAndGlyphs">11.352</text>
<text x="434.02" y="147.87" transform="rotate(.05 434.0 147.9)" font-size="5.78" fill="#000" text-anchor="end" textLength="20.26" lengthAdjust="spacingAndGlyphs">331.274</text>
<text x="479.41" y="147.87" transform="rotate(.05 479.4 147.9)" font-size="5.78" fill="#000" text-anchor="end" textLength="17.14" lengthAdjust="spacingAndGlyphs">17.630</text>
<text x="524.79" y="147.87" transform="rotate(.05 524.8 147.9)" font-size="5.78" fill="#000" text-anchor="end" textLength="20.26" lengthAdjust="spacingAndGlyphs">348.904</text>
<text x="570.18" y="147.87" transform="rotate(.05 570.2 147.9)" font-size="5.78" fill="#000" text-anchor="end" textLength="9.35" lengthAdjust="spacingAndGlyphs">947</text>
<text x="615.56" y="147.87" transform="rotate(.05 615.6 147.9)" font-size="5.78" fill="#000" text-anchor="end" textLength="24.93" lengthAdjust="spacingAndGlyphs">1.717.460</text>
<text x="660.95" y="147.87" transform="rotate(.05 660.9 147.9)" font-size="5.78" fill="#000" text-anchor="end" textLength="24.93" lengthAdjust="spacingAndGlyphs">2.714.343</text>
<text x="706.33" y="147.87" transform="rotate(.05 706.3 147.9)" font-size="5.78" fill="#000" text-anchor="end" textLength="24.93" lengthAdjust="spacingAndGlyphs">1.326.368</text>
<text x="751.72" y="147.87" transform="rotate(.05 751.7 147.9)" font-size="5.78" fill="#000" text-anchor="end" textLength="24.93" lengthAdjust="spacingAndGlyphs">4.040.711</text>
<text x="797.10" y="147.87" transform="rotate(.05 797.1 147.9)" font-size="5.78" fill="#000" text-anchor="end" textLength="17.14" lengthAdjust="spacingAndGlyphs">20.053</text>
<text x="2.00" y="155.73" transform="rotate(.05 2.0 155.7)" font-size="5.78" fill="#000" textLength="12.61" lengthAdjust="spacingAndGlyphs">Lazio</text>
<text x="116.33" y="155.73" transform="rotate(.05 116.3 155.7)" font-size="5.78" fill="#000" text-anchor="end" textLength="14.02" lengthAdjust="spacingAndGlyphs">2.055</text>
<text x="161.72" y="155.73" transform="rotate(.05 161.7 155.7)" font-size="5.78" fill="#000" text-anchor="end" textLength="9.35" lengthAdjust="spacingAndGlyphs">265</text>
<text x="207.10" y="155.73" transform="rotate(.05 207.1 155.7)" font-size="5.78" fill="#000" text-anchor="end" textLength="6.24" lengthAdjust="spacingAndGlyphs">20</text>
<text x="252.49" y="155.73" transform="rotate(.05 252.5 155.7)" font-size="5.78" fill="#000" text-anchor="end" textLength="17.14" lengthAdjust="spacingAndGlyphs">37.878</text>
<text x="297.87" y="155.73" transform="rotate(.05 297.9 155.7)" font-size="5.78" fill="#000" text-anchor="end" textLength="17.14" lengthAdjust="spacingAndGlyphs">40.198</text>
<text x="343.26" y="155.73" transform="rotate(.05 343.3 155.7)" font-size="5.78" fill="#000" text-anchor="end" textLength="20.26" lengthAdjust="spacingAndGlyphs">280.117</text>
<text x="388.64" y="155.73" transform="rotate(.05 388.6 155.7)" font-size="5.78" fill="#000" text-anchor="end" textLength="14.02" lengthAdjust="spacingAndGlyphs">7.796</text>
<text x="434.02" y="155.73" transform="rotate(.05 434.0 155.7)" font-size="5.78" fill="#000" text-anchor="end" textLength="20.26" lengthAdjust="spacingAndGlyphs">320.385</text>
<text x="479.41" y="155.73" transform="rotate(.05 479.4 155.7)" font-size="5.78" fill="#000" text-anchor="end" textLength="14.02" lengthAdjust="spacingAndGlyphs">7.726</text>
<text x="524.79" y="155.73" transform="rotate(.05 524.8 155.7)" font-size="5.78" fill="#000" text-anchor="end" textLength="20.26" lengthAdjust="spacingAndGlyphs">328.111</text>
<text x="570.18" y="155.73" transform="rotate(.05 570.2 155.7)" font-size="5.78" fill="#000" text-anchor="end" textLength="9.35" lengthAdjust="spacingAndGlyphs">838</text>
<text x="615.56" y="155.73" transform="rotate(.05 615.6 155.7)" font-size="5.78" fill="#000" text-anchor="end" textLength="24.93" lengthAdjust="spacingAndGlyphs">3.997.677</text>
<text x="660.95" y="155.73" transform="rotate(.05 660.9 155.7)" font-size="5.78" fill="#000" text-anchor="end" textLength="24.93" lengthAdjust="spacingAndGlyphs">4.371.501</text>
<text x="706.33" y="155.73" transform="rotate(.05 706.3 155.7)" font-size="5.78" fill="#000" text-anchor="end" textLength="24.93" lengthAdjust="spacingAndGlyphs">1.904.494</text>
<text x="751.72" y="155.73" transform="rotate(.05 751.7 155.7)" font-size="5.78" fill="#000" text-anchor="end" textLength="24.93" lengthAdjust="spacingAndGlyphs">6.275.995</text>
<text x="797.10" y="155.73" transform="rotate(.05 797.1 155.7)" font-size="5.78" fill="#000" text-anchor="end" textLength="17.14" lengthAdjust="spacingAndGlyphs">36.220</text>
<text x="2.00" y="163.58" transform="rotate(.05 2.0 163.6)" font-size="5.78" fill="#000" textLength="15.07" lengthAdjust="spacingAndGlyphs">Puglia</text>
<text x="116.33" y="163.58" transform="rotate(.05 116.3 163.6)" font-size="5.78" fill="#000" text-anchor="end" textLength="14.02" lengthAdjust="spacingAndGlyphs">1.548</text>
<text x="161.72" y="163.58" transform="rotate(.05 161.7 163.6)" font-size="5.78" fill="#000" text-anchor="end" textLength="9.35" lengthAdjust="spacingAndGlyphs">194</text>
<text x="207.10" y="163.58" transform="rotate(.05 207.1 163.6)" font-size="5.78" fill="#000" text-anchor="end" textLength="6.24" lengthAdjust="spacingAndGlyphs">16</text>
<text x="252.49" y="163.58" transform="rotate(.05 252.5 163.6)" font-size="5.78" fill="#000" text-anchor="end" textLength="17.14" lengthAdjust="spacingAndGlyphs">44.744</text>
<text x="297.87" y="163.58" transform="rotate(.05 297.9 163.6)" font-size="5.78" fill="#000" text-anchor="end" textLength="17.14" lengthAdjust="spacingAndGlyphs">46.486</text>
<text x="343.26" y="163.58" transform="rotate(.05 343.3 163.6)" font-size="5.78" fill="#000" text-anchor="end" textLength="20.26" lengthAdjust="spacingAndGlyphs">186.819</text>
<text x="388.64" y="163.58" transform="rotate(.05 388.6 163.6)" font-size="5.78" fill="#000" text-anchor="end" textLength="14.02" lengthAdjust="spacingAndGlyphs">6.010</text>
<text x="434.02" y="163.58" transform="rotate(.05 434.0 163.6)" font-size="5.78" fill="#000" text-anchor="end" textLength="20.26" lengthAdjust="spacingAndGlyphs">238.336</text>
<text x="479.41" y="163.58" transform="rotate(.05 479.4 163.6)" font-size="5.78" fill="#000" text-anchor="end" textLength="9.35" lengthAdjust="spacingAndGlyphs">979</text>
<text x="524.79" y="163.58" transform="rotate(.05 524.8 163.6)" font-size="5.78" fill="#000" text-anchor="end" textLength="20.26" lengthAdjust="spacingAndGlyphs">239.315</text>
<text x="570.18" y="163.58" transform="rotate(.05 570.2 163.6)" font-size="5.78" fill="#000" text-anchor="end" textLength="14.02" lengthAdjust="spacingAndGlyphs">1.171</text>
<text x="615.56" y="163.58" transform="rotate(.05 615.6 163.6)" font-size="5.78" fill="#000" text-anchor="end" textLength="24.93" lengthAdjust="spacingAndGlyphs">1.135.615</text>
<text x="660.95" y="163.58" transform="rotate(.05 660.9 163.6)" font-size="5.78" fill="#000" text-anchor="end" textLength="24.93" lengthAdjust="spacingAndGlyphs">2.104.330</text>
<text x="706.33" y="163.58" transform="rotate(.05 706.3 163.6)" font-size="5.78" fill="#000" text-anchor="end" textLength="20.26" lengthAdjust="spacingAndGlyphs">169.431</text>
<text x="751.72" y="163.58" transform="rotate(.05 751.7 163.6)" font-size="5.78" fill="#000" text-anchor="end" textLength="24.93" lengthAdjust="spacingAndGlyphs">2.273.761</text>
<text x="797.10" y="163.58" transform="rotate(.05 797.1 163.6)" font-size="5.78" fill="#000" text-anchor="end" textLength="17.14" lengthAdjust="spacingAndGlyphs">12.351</text>
<text x="2.00" y="171.44" transform="rotate(.05 2.0 171.4)" font-size="5.78" fill="#000" textLength="20.36" lengthAdjust="spacingAndGlyphs">Toscana</text>
<text x="116.33" y="171.44" transform="rotate(.05 116.3 171.4)" font-size="5.78" fill="#000" text-anchor="end" textLength="14.02" lengthAdjust="spacingAndGlyphs">1.218</text>
<text x="161.72" y="171.44" transform="rotate(.05 161.7 171.4)" font-size="5.78" fill="#000" text-anchor="end" textLength="9.35" lengthAdjust="spacingAndGlyphs">229</text>
<text x="207.10" y="171.44" transform="rotate(.05 207.1 171.4)" font-size="5.78" fill="#000" text-anchor="end" textLength="6.24" lengthAdjust="spacingAndGlyphs">17</text>
<text x="252.49" y="171.44" transform="rotate(.05 252.5 171.4)" font-size="5.78" fill="#000" text-anchor="end" textLength="17.14" lengthAdjust="spacingAndGlyphs">17.489</text>
<text x="297.87" y="171.44" transform="rotate(.05 297.9 171.4)" font-size="5.78" fill="#000" text-anchor="end" textLength="17.14" lengthAdjust="spacingAndGlyphs">18.936</text>
<text x="343.26" y="171.44" transform="rotate(.05 343.3 171.4)" font-size="5.78" fill="#000" text-anchor="end" textLength="20.26" lengthAdjust="spacingAndGlyphs">205.040</text>
<text x="388.64" y="171.44" transform="rotate(.05 388.6 171.4)" font-size="5.78" fill="#000" text-anchor="end" textLength="14.02" lengthAdjust="spacingAndGlyphs">6.308</text>
<text x="434.02" y="171.44" transform="rotate(.05 434.0 171.4)" font-size="5.78" fill="#000" text-anchor="end" textLength="20.26" lengthAdjust="spacingAndGlyphs">227.254</text>
<text x="479.41" y="171.44" transform="rotate(.05 479.4 171.4)" font-size="5.78" fill="#000" text-anchor="end" textLength="14.02" lengthAdjust="spacingAndGlyphs">3.030</text>
<text x="524.79" y="171.44" transform="rotate(.05 524.8 171.4)" font-size="5.78" fill="#000" text-anchor="end" textLength="20.26" lengthAdjust="spacingAndGlyphs">230.284</text>
<text x="570.18" y="171.44" transform="rotate(.05 570.2 171.4)" font-size="5.78" fill="#000" text-anchor="end" textLength="9.35" lengthAdjust="spacingAndGlyphs">744</text>
<text x="615.56" y="171.44" transform="rotate(.05 615.6 171.4)" font-size="5.78" fill="#000" text-anchor="end" textLength="24.93" lengthAdjust="spacingAndGlyphs">2.044.515</text>
<text x="660.95" y="171.44" transform="rotate(.05 660.9 171.4)" font-size="5.78" fill="#000" text-anchor="end" textLength="24.93" lengthAdjust="spacingAndGlyphs">3.384.070</text>
<text x="706.33" y="171.44" transform="rotate(.05 706.3 171.4)" font-size="5.78" fill="#000" text-anchor="end" textLength="20.26" lengthAdjust="spacingAndGlyphs">841.809</text>
<text x="751.72" y="171.44" transform="rotate(.05 751.7 171.4)" font-size="5.78" fill="#000" text-anchor="end" textLength="24.93" lengthAdjust="spacingAndGlyphs">4.225.879</text>
<text x="797.10" y="171.44" transform="rotate(.05 797.1 171.4)" font-size="5.78" fill="#000" text-anchor="end" textLength="17.14" lengthAdjust="spacingAndGlyphs">26.800</text>
<text x="2.00" y="179.29" transform="rotate(.05 2.0 179.3)" font-size="5.78" fill="#000" textLength="14.00" lengthAdjust="spacingAndGlyphs">Sicilia</text>
<text x="116.33" y="179.29" transform="rotate(.05 116.3 179.3)" font-size="5.78" fill="#000" text-anchor="end" textLength="14.02" lengthAdjust="spacingAndGlyphs">1.121</text>
<text x="161.72" y="179.29" transform="rotate(.05 161.7 179.3)" font-size="5.78" fill="#000" text-anchor="end" textLength="9.35" lengthAdjust="spacingAndGlyphs">152</text>
<text x="207.10" y="179.29" transform="rotate(.05 207.1 179.3)" font-size="5.78" fill="#000" text-anchor="end">7</text>
<text x="252.49" y="179.29" transform="rotate(.05 252.5 179.3)" font-size="5.78" fill="#000" text-anchor="end" textLength="17.14" lengthAdjust="spacingAndGlyphs">23.256</text>
<text x="297.87" y="179.29" transform="rotate(.05 297.9 179.3)" font-size="5.78" fill="#000" text-anchor="end" textLength="17.14" lengthAdjust="spacingAndGlyphs">24.529</text>
<text x="343.26" y="179.29" transform="rotate(.05 343.3 179.3)" font-size="5.78" fill="#000" text-anchor="end" textLength="20.26" lengthAdjust="spacingAndGlyphs">182.656</text>
<text x="388.64" y="179.29" transform="rotate(.05 388.6 179.3)" font-size="5.78" fill="#000" text-anchor="end" textLength="14.02" lengthAdjust="spacingAndGlyphs">5.492</text>
<text x="434.02" y="179.29" transform="rotate(.05 434.0 179.3)" font-size="5.78" fill="#000" text-anchor="end" textLength="20.26" lengthAdjust="spacingAndGlyphs">212.677</text>
<text x="479.41" y="179.29" transform="rotate(.05 479.4 179.3)" font-size="5.78" fill="#000" text-anchor="end">0</text>
<text x="524.79" y="179.29" transform="rotate(.05 524.8 179.3)" font-size="5.78" fill="#000" text-anchor="end" textLength="20.26" lengthAdjust="spacingAndGlyphs">212.677</text>
<text x="570.18" y="179.29" transform="rotate(.05 570.2 179.3)" font-size="5.78" fill="#000" text-anchor="end" textLength="9.35" lengthAdjust="spacingAndGlyphs">782</text>
<text x="615.56" y="179.29" transform="rotate(.05 615.6 179.3)" font-size="5.78" fill="#000" text-anchor="end" textLength="24.93" lengthAdjust="spacingAndGlyphs">1.545.925</text>
<text x="660.95" y="179.29" transform="rotate(.05 660.9 179.3)" font-size="5.78" fill="#000" text-anchor="end" textLength="24.93" lengthAdjust="spacingAndGlyphs">2.323.160</text>
<text x="706.33" y="179.29" transform="rotate(.05 706.3 179.3)" font-size="5.78" fill="#000" text-anchor="end" textLength="24.93" lengthAdjust="spacingAndGlyphs">1.681.158</text>
<text x="751.72" y="179.29" transform="rotate(.05 751.7 179.3)" font-size="5.78" fill="#000" text-anchor="end" textLength="24.93" lengthAdjust="spacingAndGlyphs">4.004.318</text>
<text x="797.10" y="179.29" transform="rotate(.05 797.1 179.3)" font-size="5.78" fill="#000" text-anchor="end" textLength="17.14" lengthAdjust="spacingAndGlyphs">27.072</text>
<text y="187.15" transform="rotate(.05 2.0 187.1)" font-size="5.78" fill="#000"><tspan x="2.00" textLength="12.42" lengthAdjust="spacingAndGlyphs">Friuli</tspan> <tspan x="15.81" textLength="19.62" lengthAdjust="spacingAndGlyphs">Venezia</tspan> <tspan x="36.83" textLength="14.28" lengthAdjust="spacingAndGlyphs">Giulia</tspan></text>
<text x="116.33" y="187.15" transform="rotate(.05 116.3 187.1)" font-size="5.78" fill="#000" text-anchor="end" textLength="9.35" lengthAdjust="spacingAndGlyphs">193</text>
<text x="161.72" y="187.15" transform="rotate(.05 161.7 187.1)" font-size="5.78" fill="#000" text-anchor="end" textLength="6.24" lengthAdjust="spacingAndGlyphs">33</text>
<text x="207.10" y="187.15" transform="rotate(.05 207.1 187.1)" font-size="5.78" fill="#000" text-anchor="end">3</text>
<text x="252.49" y="187.15" transform="rotate(.05 252.5 187.1)" font-size="5.78" fill="#000" text-anchor="end" textLength="14.02" lengthAdjust="spacingAndGlyphs">6.640</text>
<text x="297.87" y="187.15" transform="rotate(.05 297.9 187.1)" font-size="5.78" fill="#000" text-anchor="end" textLength="14.02" lengthAdjust="spacingAndGlyphs">6.866</text>
<text x="343.26" y="187.15" transform="rotate(.05 343.3 187.1)" font-size="5.78" fill="#000" text-anchor="end" textLength="17.14" lengthAdjust="spacingAndGlyphs">95.172</text>
<text x="388.64" y="187.15" transform="rotate(.05 388.6 187.1)" font-size="5.78" fill="#000" text-anchor="end" textLength="14.02" lengthAdjust="spacingAndGlyphs">3.723</text>
<text x="434.02" y="187.15" transform="rotate(.05 434.0 187.1)" font-size="5.78" fill="#000" text-anchor="end" textLength="17.14" lengthAdjust="spacingAndGlyphs">91.281</text>
<text x="479.41" y="187.15" transform="rotate(.05 479.4 187.1)" font-size="5.78" fill="#000" text-anchor="end" textLength="17.14" lengthAdjust="spacingAndGlyphs">14.480</text>
<text x="524.79" y="187.15" transform="rotate(.05 524.8 187.1)" font-size="5.78" fill="#000" text-anchor="end" textLength="20.26" lengthAdjust="spacingAndGlyphs">105.761</text>
<text x="570.18" y="187.15" transform="rotate(.05 570.2 187.1)" font-size="5.78" fill="#000" text-anchor="end" textLength="9.35" lengthAdjust="spacingAndGlyphs">174</text>
<text x="615.56" y="187.15" transform="rotate(.05 615.6 187.1)" font-size="5.78" fill="#000" text-anchor="end" textLength="20.26" lengthAdjust="spacingAndGlyphs">651.239</text>
<text x="660.95" y="187.15" transform="rotate(.05 660.9 187.1)" font-size="5.78" fill="#000" text-anchor="end" textLength="24.93" lengthAdjust="spacingAndGlyphs">1.612.225</text>
<text x="706.33" y="187.15" transform="rotate(.05 706.3 187.1)" font-size="5.78" fill="#000" text-anchor="end" textLength="20.26" lengthAdjust="spacingAndGlyphs">265.820</text>
<text x="751.72" y="187.15" transform="rotate(.05 751.7 187.1)" font-size="5.78" fill="#000" text-anchor="end" textLength="24.93" lengthAdjust="spacingAndGlyphs">1.878.045</text>
<text x="797.10" y="187.15" transform="rotate(.05 797.1 187.1)" font-size="5.78" fill="#000" text-anchor="end" textLength="17.14" lengthAdjust="spacingAndGlyphs">10.568</text>
<text x="2.00" y="195.00" transform="rotate(.05 2.0 195.0)" font-size="5.78" fill="#000" textLength="16.62" lengthAdjust="spacingAndGlyphs">Liguria</text>
<text x="116.33" y="195.00" transform="rotate(.05 116.3 195.0)" font-size="5.78" fill="#000" text-anchor="end" textLength="9.35" lengthAdjust="spacingAndGlyphs">463</text>
<text x="161.72" y="195.00" transform="rotate(.05 161.7 195.0)" font-size="5.78" fill="#000" text-anchor="end" textLength="6.24" lengthAdjust="spacingAndGlyphs">62</text>
<text x="207.10" y="195.00" transform="rotate(.05 207.1 195.0)" font-size="5.78" fill="#000" text-anchor="end">4</text>
<text x="252.49" y="195.00" transform="rotate(.05 252.5 195.0)" font-size="5.78" fill="#000" text-anchor="end" textLength="14.02" lengthAdjust="spacingAndGlyphs">4.177</text>
<text x="297.87" y="195.00" transform="rotate(.05 297.9 195.0)" font-size="5.78" fill="#000" text-anchor="end" textLength="14.02" lengthAdjust="spacingAndGlyphs">4.702</text>
<text x="343.26" y="195.00" transform="rotate(.05 343.3 195.0)" font-size="5.78" fill="#000" text-anchor="end" textLength="17.14" lengthAdjust="spacingAndGlyphs">91.406</text>
<text x="388.64" y="195.00" transform="rotate(.05 388.6 195.0)" font-size="5.78" fill="#000" text-anchor="end" textLength="14.02" lengthAdjust="spacingAndGlyphs">4.219</text>
<text x="434.02" y="195.00" transform="rotate(.05 434.0 195.0)" font-size="5.78" fill="#000" text-anchor="end" textLength="20.26" lengthAdjust="spacingAndGlyphs">100.327</text>
<text x="479.41" y="195.00" transform="rotate(.05 479.4 195.0)" font-size="5.78" fill="#000" text-anchor="end">0</text>
<text x="524.79" y="195.00" transform="rotate(.05 524.8 195.0)" font-size="5.78" fill="#000" text-anchor="end" textLength="20.26" lengthAdjust="spacingAndGlyphs">100.327</text>
<text x="570.18" y="195.00" transform="rotate(.05 570.2 195.0)" font-size="5.78" fill="#000" text-anchor="end" textLength="9.35" lengthAdjust="spacingAndGlyphs">194</text>
<text x="615.56" y="195.00" transform="rotate(.05 615.6 195.0)" font-size="5.78" fill="#000" text-anchor="end" textLength="20.26" lengthAdjust="spacingAndGlyphs">595.410</text>
<text x="660.95" y="195.00" transform="rotate(.05 660.9 195.0)" font-size="5.78" fill="#000" text-anchor="end" textLength="24.93" lengthAdjust="spacingAndGlyphs">1.205.131</text>
<text x="706.33" y="195.00" transform="rotate(.05 706.3 195.0)" font-size="5.78" fill="#000" text-anchor="end" textLength="20.26" lengthAdjust="spacingAndGlyphs">266.200</text>
<text x="751.72" y="195.00" transform="rotate(.05 751.7 195.0)" font-size="5.78" fill="#000" text-anchor="end" textLength="24.93" lengthAdjust="spacingAndGlyphs">1.471.331</text>
<text x="797.10" y="195.00" transform="rotate(.05 797.1 195.0)" font-size="5.78" fill="#000" text-anchor="end" textLength="14.02" lengthAdjust="spacingAndGlyphs">7.464</text>
<text x="2.00" y="202.86" transform="rotate(.05 2.0 202.9)" font-size="5.78" fill="#000" textLength="19.24" lengthAdjust="spacingAndGlyphs">Marche</text>
<text x="116.33" y="202.86" transform="rotate(.05 116.3 202.9)" font-size="5.78" fill="#000" text-anchor="end" textLength="9.35" lengthAdjust="spacingAndGlyphs">391</text>
<text x="161.72" y="202.86" transform="rotate(.05 161.7 202.9)" font-size="5.78" fill="#000" text-anchor="end" textLength="6.24" lengthAdjust="spacingAndGlyphs">68</text>
<text x="207.10" y="202.86" transform="rotate(.05 207.1 202.9)" font-size="5.78" fill="#000" text-anchor="end">4</text>
<text x="252.49" y="202.86" transform="rotate(.05 252.5 202.9)" font-size="5.78" fill="#000" text-anchor="end" textLength="14.02" lengthAdjust="spacingAndGlyphs">5.414</text>
<text x="297.87" y="202.86" transform="rotate(.05 297.9 202.9)" font-size="5.78" fill="#000" text-anchor="end" textLength="14.02" lengthAdjust="spacingAndGlyphs">5.873</text>
<text x="343.26" y="202.86" transform="rotate(.05 343.3 202.9)" font-size="5.78" fill="#000" text-anchor="end" textLength="17.14" lengthAdjust="spacingAndGlyphs">89.811</text>
<text x="388.64" y="202.86" transform="rotate(.05 388.6 202.9)" font-size="5.78" fill="#000" text-anchor="end" textLength="14.02" lengthAdjust="spacingAndGlyphs">2.953</text>
<text x="434.02" y="202.86" transform="rotate(.05 434.0 202.9)" font-size="5.78" fill="#000" text-anchor="end" textLength="17.14" lengthAdjust="spacingAndGlyphs">98.637</text>
<text x="479.41" y="202.86" transform="rotate(.05 479.4 202.9)" font-size="5.78" fill="#000" text-anchor="end">0</text>
<text x="524.79" y="202.86" transform="rotate(.05 524.8 202.9)" font-size="5.78" fill="#000" text-anchor="end" textLength="17.14" lengthAdjust="spacingAndGlyphs">98.637</text>
<text x="570.18" y="202.86" transform="rotate(.05 570.2 202.9)" font-size="5.78" fill="#000" text-anchor="end" textLength="9.35" lengthAdjust="spacingAndGlyphs">278</text>
<text x="615.56" y="202.86" transform="rotate(.05 615.6 202.9)" font-size="5.78" fill="#000" text-anchor="end" textLength="20.26" lengthAdjust="spacingAndGlyphs">684.972</text>
<text x="660.95" y="202.86" transform="rotate(.05 660.9 202.9)" font-size="5.78" fill="#000" text-anchor="end" textLength="24.93" lengthAdjust="spacingAndGlyphs">1.026.716</text>
<text x="706.33" y="202.86" transform="rotate(.05 706.3 202.9)" font-size="5.78" fill="#000" text-anchor="end" textLength="20.26" lengthAdjust="spacingAndGlyphs">120.346</text>
<text x="751.72" y="202.86" transform="rotate(.05 751.7 202.9)" font-size="5.78" fill="#000" text-anchor="end" textLength="24.93" lengthAdjust="spacingAndGlyphs">1.147.062</text>
<text x="797.10" y="202.86" transform="rotate(.05 797.1 202.9)" font-size="5.78" fill="#000" text-anchor="end" textLength="14.02" lengthAdjust="spacingAndGlyphs">4.559</text>
<text x="2.00" y="210.71" transform="rotate(.05 2.0 210.7)" font-size="5.78" fill="#000" textLength="20.26" lengthAdjust="spacingAndGlyphs">Abruzzo</text>
<text x="116.33" y="210.71" transform="rotate(.05 116.3 210.7)" font-size="5.78" fill="#000" text-anchor="end" textLength="9.35" lengthAdjust="spacingAndGlyphs">335</text>
<text x="161.72" y="210.71" transform="rotate(.05 161.7 210.7)" font-size="5.78" fill="#000" text-anchor="end" textLength="6.24" lengthAdjust="spacingAndGlyphs">30</text>
<text x="207.10" y="210.71" transform="rotate(.05 207.1 210.7)" font-size="5.78" fill="#000" text-anchor="end">6</text>
<text x="252.49" y="210.71" transform="rotate(.05 252.5 210.7)" font-size="5.78" fill="#000" text-anchor="end" textLength="14.02" lengthAdjust="spacingAndGlyphs">7.796</text>
<text x="297.87" y="210.71" transform="rotate(.05 297.9 210.7)" font-size="5.78" fill="#000" text-anchor="end" textLength="14.02" lengthAdjust="spacingAndGlyphs">8.161</text>
<text x="343.26" y="210.71" transform="rotate(.05 343.3 210.7)" font-size="5.78" fill="#000" text-anchor="end" textLength="17.14" lengthAdjust="spacingAndGlyphs">61.333</text>
<text x="388.64" y="210.71" transform="rotate(.05 388.6 210.7)" font-size="5.78" fill="#000" text-anchor="end" textLength="14.02" lengthAdjust="spacingAndGlyphs">2.422</text>
<text x="434.02" y="210.71" transform="rotate(.05 434.0 210.7)" font-size="5.78" fill="#000" text-anchor="end" textLength="17.14" lengthAdjust="spacingAndGlyphs">71.916</text>
<text x="479.41" y="210.71" transform="rotate(.05 479.4 210.7)" font-size="5.78" fill="#000" text-anchor="end">0</text>
<text x="524.79" y="210.71" transform="rotate(.05 524.8 210.7)" font-size="5.78" fill="#000" text-anchor="end" textLength="17.14" lengthAdjust="spacingAndGlyphs">71.916</text>
<text x="570.18" y="210.71" transform="rotate(.05 570.2 210.7)" font-size="5.78" fill="#000" text-anchor="end" textLength="9.35" lengthAdjust="spacingAndGlyphs">192</text>
<text x="615.56" y="210.71" transform="rotate(.05 615.6 210.7)" font-size="5.78" fill="#000" text-anchor="end" textLength="20.26" lengthAdjust="spacingAndGlyphs">628.637</text>
<text x="660.95" y="210.71" transform="rotate(.05 660.9 210.7)" font-size="5.78" fill="#000" text-anchor="end" textLength="24.93" lengthAdjust="spacingAndGlyphs">1.030.596</text>
<text x="706.33" y="210.71" transform="rotate(.05 706.3 210.7)" font-size="5.78" fill="#000" text-anchor="end" textLength="20.26" lengthAdjust="spacingAndGlyphs">419.961</text>
<text x="751.72" y="210.71" transform="rotate(.05 751.7 210.7)" font-size="5.78" fill="#000" text-anchor="end" textLength="24.93" lengthAdjust="spacingAndGlyphs">1.450.557</text>
<text x="797.10" y="210.71" transform="rotate(.05 797.1 210.7)" font-size="5.78" fill="#000" text-anchor="end" textLength="14.02" lengthAdjust="spacingAndGlyphs">6.636</text>
<text y="218.57" transform="rotate(.05 2.0 218.6)" font-size="5.78" fill="#000"><tspan x="2.00" textLength="9.84" lengthAdjust="spacingAndGlyphs">P.A.</tspan> <tspan x="13.23" textLength="19.84" lengthAdjust="spacingAndGlyphs">Bolzano</tspan></text>
<text x="116.33" y="218.57" transform="rotate(.05 116.3 218.6)" font-size="5.78" fill="#000" text-anchor="end" textLength="6.24" lengthAdjust="spacingAndGlyphs">46</text>
<text x="161.72" y="218.57" transform="rotate(.05 161.7 218.6)" font-size="5.78" fill="#000" text-anchor="end">7</text>
<text x="207.10" y="218.57" transform="rotate(.05 207.1 218.6)" font-size="5.78" fill="#000" text-anchor="end">1</text>
<text x="252.49" y="218.57" transform="rotate(.05 252.5 218.6)" font-size="5.78" fill="#000" text-anchor="end" textLength="14.02" lengthAdjust="spacingAndGlyphs">1.138</text>
<text x="297.87" y="218.57" transform="rotate(.05 297.9 218.6)" font-size="5.78" fill="#000" text-anchor="end" textLength="14.02" lengthAdjust="spacingAndGlyphs">1.191</text>
<text x="343.26" y="218.57" transform="rotate(.05 343.3 218.6)" font-size="5.78" fill="#000" text-anchor="end" textLength="17.14" lengthAdjust="spacingAndGlyphs">69.163</text>
<text x="388.64" y="218.57" transform="rotate(.05 388.6 218.6)" font-size="5.78" fill="#000" text-anchor="end" textLength="14.02" lengthAdjust="spacingAndGlyphs">1.167</text>
<text x="434.02" y="218.57" transform="rotate(.05 434.0 218.6)" font-size="5.78" fill="#000" text-anchor="end" textLength="17.14" lengthAdjust="spacingAndGlyphs">58.382</text>
<text x="479.41" y="218.57" transform="rotate(.05 479.4 218.6)" font-size="5.78" fill="#000" text-anchor="end" textLength="17.14" lengthAdjust="spacingAndGlyphs">13.139</text>
<text x="524.79" y="218.57" transform="rotate(.05 524.8 218.6)" font-size="5.78" fill="#000" text-anchor="end" textLength="17.14" lengthAdjust="spacingAndGlyphs">71.521</text>
<text x="570.18" y="218.57" transform="rotate(.05 570.2 218.6)" font-size="5.78" fill="#000" text-anchor="end" textLength="6.24" lengthAdjust="spacingAndGlyphs">94</text>
<text x="615.56" y="218.57" transform="rotate(.05 615.6 218.6)" font-size="5.78" fill="#000" text-anchor="end" textLength="20.26" lengthAdjust="spacingAndGlyphs">399.592</text>
<text x="660.95" y="218.57" transform="rotate(.05 660.9 218.6)" font-size="5.78" fill="#000" text-anchor="end" textLength="20.26" lengthAdjust="spacingAndGlyphs">559.498</text>
<text x="706.33" y="218.57" transform="rotate(.05 706.3 218.6)" font-size="5.78" fill="#000" text-anchor="end" textLength="20.26" lengthAdjust="spacingAndGlyphs">847.550</text>
<text x="751.72" y="218.57" transform="rotate(.05 751.7 218.6)" font-size="5.78" fill="#000" text-anchor="end" textLength="24.93" lengthAdjust="spacingAndGlyphs">1.407.048</text>
<text x="797.10" y="218.57" transform="rotate(.05 797.1 218.6)" font-size="5.78" fill="#000" text-anchor="end" textLength="14.02" lengthAdjust="spacingAndGlyphs">7.758</text>
<text x="2.00" y="226.42" transform="rotate(.05 2.0 226.4)" font-size="5.78" fill="#000" textLength="20.31" lengthAdjust="spacingAndGlyphs">Calabria</text>
<text x="116.33" y="226.42" transform="rotate(.05 116.3 226.4)" font-size="5.78" fill="#000" text-anchor="end" textLength="9.35" lengthAdjust="spacingAndGlyphs">432</text>
<text x="161.72" y="226.42" transform="rotate(.05 161.7 226.4)" font-size="5.78" fill="#000" text-anchor="end" textLength="6.24" lengthAdjust="spacingAndGlyphs">39</text>
<text x="207.10" y="226.42" transform="rotate(.05 207.1 226.4)" font-size="5.78" fill="#000" text-anchor="end">2</text>
<text x="252.49" y="226.42" transform="rotate(.05 252.5 226.4)" font-size="5.78" fill="#000" text-anchor="end" textLength="17.14" lengthAdjust="spacingAndGlyphs">13.404</text>
<text x="297.87" y="226.42" transform="rotate(.05 297.9 226.4)" font-size="5.78" fill="#000" text-anchor="end" textLength="17.14" lengthAdjust="spacingAndGlyphs">13.875</text>
<text x="343.26" y="226.42" transform="rotate(.05 343.3 226.4)" font-size="5.78" fill="#000" text-anchor="end" textLength="17.14" lengthAdjust="spacingAndGlyphs">46.590</text>
<text x="388.64" y="226.42" transform="rotate(.05 388.6 226.4)" font-size="5.78" fill="#000" text-anchor="end" textLength="14.02" lengthAdjust="spacingAndGlyphs">1.046</text>
<text x="434.02" y="226.42" transform="rotate(.05 434.0 226.4)" font-size="5.78" fill="#000" text-anchor="end" textLength="17.14" lengthAdjust="spacingAndGlyphs">61.498</text>
<text x="479.41" y="226.42" transform="rotate(.05 479.4 226.4)" font-size="5.78" fill="#000" text-anchor="end" textLength="6.24" lengthAdjust="spacingAndGlyphs">13</text>
<text x="524.79" y="226.42" transform="rotate(.05 524.8 226.4)" font-size="5.78" fill="#000" text-anchor="end" textLength="17.14" lengthAdjust="spacingAndGlyphs">61.511</text>
<text x="570.18" y="226.42" transform="rotate(.05 570.2 226.4)" font-size="5.78" fill="#000" text-anchor="end" textLength="9.35" lengthAdjust="spacingAndGlyphs">284</text>
<text x="615.56" y="226.42" transform="rotate(.05 615.6 226.4)" font-size="5.78" fill="#000" text-anchor="end" textLength="20.26" lengthAdjust="spacingAndGlyphs">730.160</text>
<text x="660.95" y="226.42" transform="rotate(.05 660.9 226.4)" font-size="5.78" fill="#000" text-anchor="end" textLength="20.26" lengthAdjust="spacingAndGlyphs">757.008</text>
<text x="706.33" y="226.42" transform="rotate(.05 706.3 226.4)" font-size="5.78" fill="#000" text-anchor="end" textLength="17.14" lengthAdjust="spacingAndGlyphs">32.208</text>
<text x="751.72" y="226.42" transform="rotate(.05 751.7 226.4)" font-size="5.78" fill="#000" text-anchor="end" textLength="20.26" lengthAdjust="spacingAndGlyphs">789.216</text>
<text x="797.10" y="226.42" transform="rotate(.05 797.1 226.4)" font-size="5.78" fill="#000" text-anchor="end" textLength="14.02" lengthAdjust="spacingAndGlyphs">4.360</text>
<text x="2.00" y="234.28" transform="rotate(.05 2.0 234.3)" font-size="5.78" fill="#000" textLength="23.28" lengthAdjust="spacingAndGlyphs">Sardegna</text>
<text x="116.33" y="234.28" transform="rotate(.05 116.3 234.3)" font-size="5.78" fill="#000" text-anchor="end" textLength="9.35" lengthAdjust="spacingAndGlyphs">338</text>
<text x="161.72" y="234.28" transform="rotate(.05 161.7 234.3)" font-size="5.78" fill="#000" text-anchor="end" textLength="6.24" lengthAdjust="spacingAndGlyphs">46</text>
<text x="207.10" y="234.28" transform="rotate(.05 207.1 234.3)" font-size="5.78" fill="#000" text-anchor="end">1</text>
<text x="252.49" y="234.28" transform="rotate(.05 252.5 234.3)" font-size="5.78" fill="#000" text-anchor="end" textLength="17.14" lengthAdjust="spacingAndGlyphs">15.863</text>
<text x="297.87" y="234.28" transform="rotate(.05 297.9 234.3)" font-size="5.78" fill="#000" text-anchor="end" textLength="17.14" lengthAdjust="spacingAndGlyphs">16.247</text>
<text x="343.26" y="234.28" transform="rotate(.05 343.3 234.3)" font-size="5.78" fill="#000" text-anchor="end" textLength="17.14" lengthAdjust="spacingAndGlyphs">37.496</text>
<text x="388.64" y="234.28" transform="rotate(.05 388.6 234.3)" font-size="5.78" fill="#000" text-anchor="end" textLength="14.02" lengthAdjust="spacingAndGlyphs">1.403</text>
<text x="434.02" y="234.28" transform="rotate(.05 434.0 234.3)" font-size="5.78" fill="#000" text-anchor="end" textLength="17.14" lengthAdjust="spacingAndGlyphs">55.129</text>
<text x="479.41" y="234.28" transform="rotate(.05 479.4 234.3)" font-size="5.78" fill="#000" text-anchor="end" textLength="6.24" lengthAdjust="spacingAndGlyphs">17</text>
<text x="524.79" y="234.28" transform="rotate(.05 524.8 234.3)" font-size="5.78" fill="#000" text-anchor="end" textLength="17.14" lengthAdjust="spacingAndGlyphs">55.146</text>
<text x="570.18" y="234.28" transform="rotate(.05 570.2 234.3)" font-size="5.78" fill="#000" text-anchor="end" textLength="9.35" lengthAdjust="spacingAndGlyphs">166</text>
<text x="615.56" y="234.28" transform="rotate(.05 615.6 234.3)" font-size="5.78" fill="#000" text-anchor="end" textLength="20.26" lengthAdjust="spacingAndGlyphs">708.052</text>
<text x="660.95" y="234.28" transform="rotate(.05 660.9 234.3)" font-size="5.78" fill="#000" text-anchor="end" textLength="20.26" lengthAdjust="spacingAndGlyphs">845.325</text>
<text x="706.33" y="234.28" transform="rotate(.05 706.3 234.3)" font-size="5.78" fill="#000" text-anchor="end" textLength="20.26" lengthAdjust="spacingAndGlyphs">356.385</text>
<text x="751.72" y="234.28" transform="rotate(.05 751.7 234.3)" font-size="5.78" fill="#000" text-anchor="end" textLength="24.93" lengthAdjust="spacingAndGlyphs">1.201.710</text>
<text x="797.10" y="234.28" transform="rotate(.05 797.1 234.3)" font-size="5.78" fill="#000" text-anchor="end" textLength="14.02" lengthAdjust="spacingAndGlyphs">3.564</text>
<text x="2.00" y="242.13" transform="rotate(.05 2.0 242.1)" font-size="5.78" fill="#000" textLength="18.59" lengthAdjust="spacingAndGlyphs">Umbria</text>
<text x="116.33" y="242.13" transform="rotate(.05 116.3 242.1)" font-size="5.78" fill="#000" text-anchor="end" textLength="9.35" lengthAdjust="spacingAndGlyphs">146</text>
<text x="161.72" y="242.13" transform="rotate(.05 161.7 242.1)" font-size="5.78" fill="#000" text-anchor="end" textLength="6.24" lengthAdjust="spacingAndGlyphs">24</text>
<text x="207.10" y="242.13" transform="rotate(.05 207.1 242.1)" font-size="5.78" fill="#000" text-anchor="end">0</text>
<text x="252.49" y="242.13" transform="rotate(.05 252.5 242.1)" font-size="5.78" fill="#000" text-anchor="end" textLength="14.02" lengthAdjust="spacingAndGlyphs">2.557</text>
<text x="297.87" y="242.13" transform="rotate(.05 297.9 242.1)" font-size="5.78" fill="#000" text-anchor="end" textLength="14.02" lengthAdjust="spacingAndGlyphs">2.727</text>
<text x="343.26" y="242.13" transform="rotate(.05 343.3 242.1)" font-size="5.78" fill="#000" text-anchor="end" textLength="17.14" lengthAdjust="spacingAndGlyphs">50.776</text>
<text x="388.64" y="242.13" transform="rotate(.05 388.6 242.1)" font-size="5.78" fill="#000" text-anchor="end" textLength="14.02" lengthAdjust="spacingAndGlyphs">1.364</text>
<text x="434.02" y="242.13" transform="rotate(.05 434.0 242.1)" font-size="5.78" fill="#000" text-anchor="end" textLength="17.14" lengthAdjust="spacingAndGlyphs">54.867</text>
<text x="479.41" y="242.13" transform="rotate(.05 479.4 242.1)" font-size="5.78" fill="#000" text-anchor="end">0</text>
<text x="524.79" y="242.13" transform="rotate(.05 524.8 242.1)" font-size="5.78" fill="#000" text-anchor="end" textLength="17.14" lengthAdjust="spacingAndGlyphs">54.867</text>
<text x="570.18" y="242.13" transform="rotate(.05 570.2 242.1)" font-size="5.78" fill="#000" text-anchor="end" textLength="9.35" lengthAdjust="spacingAndGlyphs">131</text>
<text x="615.56" y="242.13" transform="rotate(.05 615.6 242.1)" font-size="5.78" fill="#000" text-anchor="end" textLength="20.26" lengthAdjust="spacingAndGlyphs">361.468</text>
<text x="660.95" y="242.13" transform="rotate(.05 660.9 242.1)" font-size="5.78" fill="#000" text-anchor="end" textLength="20.26" lengthAdjust="spacingAndGlyphs">870.527</text>
<text x="706.33" y="242.13" transform="rotate(.05 706.3 242.1)" font-size="5.78" fill="#000" text-anchor="end" textLength="20.26" lengthAdjust="spacingAndGlyphs">325.485</text>
<text x="751.72" y="242.13" transform="rotate(.05 751.7 242.1)" font-size="5.78" fill="#000" text-anchor="end" textLength="24.93" lengthAdjust="spacingAndGlyphs">1.196.012</text>
<text x="797.10" y="242.13" transform="rotate(.05 797.1 242.1)" font-size="5.78" fill="#000" text-anchor="end" textLength="14.02" lengthAdjust="spacingAndGlyphs">8.073</text>
<text y="249.99" transform="rotate(.05 2.0 250.0)" font-size="5.78" fill="#000"><tspan x="2.00" textLength="9.84" lengthAdjust="spacingAndGlyphs">P.A.</tspan> <tspan x="13.23" textLength="16.73" lengthAdjust="spacingAndGlyphs">Trento</tspan></text>
<text x="116.33" y="249.99" transform="rotate(.05 116.3 250.0)" font-size="5.78" fill="#000" text-anchor="end" textLength="6.24" lengthAdjust="spacingAndGlyphs">65</text>
<text x="161.72" y="249.99" transform="rotate(.05 161.7 250.0)" font-size="5.78" fill="#000" text-anchor="end" textLength="6.24" lengthAdjust="spacingAndGlyphs">19</text>
<text x="207.10" y="249.99" transform="rotate(.05 207.1 250.0)" font-size="5.78" fill="#000" text-anchor="end">2</text>
<text x="252.49" y="249.99" transform="rotate(.05 252.5 250.0)" font-size="5.78" fill="#000" text-anchor="end" textLength="9.35" lengthAdjust="spacingAndGlyphs">852</text>
<text x="297.87" y="249.99" transform="rotate(.05 297.9 250.0)" font-size="5.78" fill="#000" text-anchor="end" textLength="9.35" lengthAdjust="spacingAndGlyphs">936</text>
<text x="343.26" y="249.99" transform="rotate(.05 343.3 250.0)" font-size="5.78" fill="#000" text-anchor="end" textLength="17.14" lengthAdjust="spacingAndGlyphs">42.000</text>
<text x="388.64" y="249.99" transform="rotate(.05 388.6 250.0)" font-size="5.78" fill="#000" text-anchor="end" textLength="14.02" lengthAdjust="spacingAndGlyphs">1.346</text>
<text x="434.02" y="249.99" transform="rotate(.05 434.0 250.0)" font-size="5.78" fill="#000" text-anchor="end" textLength="17.14" lengthAdjust="spacingAndGlyphs">32.072</text>
<text x="479.41" y="249.99" transform="rotate(.05 479.4 250.0)" font-size="5.78" fill="#000" text-anchor="end" textLength="17.14" lengthAdjust="spacingAndGlyphs">12.210</text>
<text x="524.79" y="249.99" transform="rotate(.05 524.8 250.0)" font-size="5.78" fill="#000" text-anchor="end" textLength="17.14" lengthAdjust="spacingAndGlyphs">44.282</text>
<text x="570.18" y="249.99" transform="rotate(.05 570.2 250.0)" font-size="5.78" fill="#000" text-anchor="end" textLength="6.24" lengthAdjust="spacingAndGlyphs">63</text>
<text x="615.56" y="249.99" transform="rotate(.05 615.6 250.0)" font-size="5.78" fill="#000" text-anchor="end" textLength="20.26" lengthAdjust="spacingAndGlyphs">195.988</text>
<text x="660.95" y="249.99" transform="rotate(.05 660.9 250.0)" font-size="5.78" fill="#000" text-anchor="end" textLength="20.26" lengthAdjust="spacingAndGlyphs">641.775</text>
<text x="706.33" y="249.99" transform="rotate(.05 706.3 250.0)" font-size="5.78" fill="#000" text-anchor="end" textLength="20.26" lengthAdjust="spacingAndGlyphs">132.680</text>
<text x="751.72" y="249.99" transform="rotate(.05 751.7 250.0)" font-size="5.78" fill="#000" text-anchor="end" textLength="20.26" lengthAdjust="spacingAndGlyphs">774.455</text>
<text x="797.10" y="249.99" transform="rotate(.05 797.1 250.0)" font-size="5.78" fill="#000" text-anchor="end" textLength="14.02" lengthAdjust="spacingAndGlyphs">2.094</text>
<text x="2.00" y="257.84" transform="rotate(.05 2.0 257.8)" font-size="5.78" fill="#000" textLength="23.47" lengthAdjust="spacingAndGlyphs">Basilicata</text>
<text x="116.33" y="257.84" transform="rotate(.05 116.3 257.8)" font-size="5.78" fill="#000" text-anchor="end" textLength="9.35" lengthAdjust="spacingAndGlyphs">160</text>
<text x="161.72" y="257.84" transform="rotate(.05 161.7 257.8)" font-size="5.78" fill="#000" text-anchor="end">8</text>
<text x="207.10" y="257.84" transform="rotate(.05 207.1 257.8)" font-size="5.78" fill="#000" text-anchor="end">0</text>
<text x="252.49" y="257.84" transform="rotate(.05 252.5 257.8)" font-size="5.78" fill="#000" text-anchor="end" textLength="14.02" lengthAdjust="spacingAndGlyphs">6.107</text>
<text x="297.87" y="257.84" transform="rotate(.05 297.9 257.8)" font-size="5.78" fill="#000" text-anchor="end" textLength="14.02" lengthAdjust="spacingAndGlyphs">6.275</text>
<text x="343.26" y="257.84" transform="rotate(.05 343.3 257.8)" font-size="5.78" fill="#000" text-anchor="end" textLength="17.14" lengthAdjust="spacingAndGlyphs">17.687</text>
<text x="388.64" y="257.84" transform="rotate(.05 388.6 257.8)" font-size="5.78" fill="#000" text-anchor="end" textLength="9.35" lengthAdjust="spacingAndGlyphs">543</text>
<text x="434.02" y="257.84" transform="rotate(.05 434.0 257.8)" font-size="5.78" fill="#000" text-anchor="end" textLength="17.14" lengthAdjust="spacingAndGlyphs">24.505</text>
<text x="479.41" y="257.84" transform="rotate(.05 479.4 257.8)" font-size="5.78" fill="#000" text-anchor="end">0</text>
<text x="524.79" y="257.84" transform="rotate(.05 524.8 257.8)" font-size="5.78" fill="#000" text-anchor="end" textLength="17.14" lengthAdjust="spacingAndGlyphs">24.505</text>
<text x="570.18" y="257.84" transform="rotate(.05 570.2 257.8)" font-size="5.78" fill="#000" text-anchor="end" textLength="9.35" lengthAdjust="spacingAndGlyphs">175</text>
<text x="615.56" y="257.84" transform="rotate(.05 615.6 257.8)" font-size="5.78" fill="#000" text-anchor="end" textLength="20.26" lengthAdjust="spacingAndGlyphs">191.070</text>
<text x="660.95" y="257.84" transform="rotate(.05 660.9 257.8)" font-size="5.78" fill="#000" text-anchor="end" textLength="20.26" lengthAdjust="spacingAndGlyphs">329.249</text>
<text x="706.33" y="257.84" transform="rotate(.05 706.3 257.8)" font-size="5.78" fill="#000" text-anchor="end" textLength="17.14" lengthAdjust="spacingAndGlyphs">14.703</text>
<text x="751.72" y="257.84" transform="rotate(.05 751.7 257.8)" font-size="5.78" fill="#000" text-anchor="end" textLength="20.26" lengthAdjust="spacingAndGlyphs">343.952</text>
<text x="797.10" y="257.84" transform="rotate(.05 797.1 257.8)" font-size="5.78" fill="#000" text-anchor="end" textLength="14.02" lengthAdjust="spacingAndGlyphs">1.859</text>
<text x="2.00" y="265.70" transform="rotate(.05 2.0 265.7)" font-size="5.78" fill="#000" textLength="16.78" lengthAdjust="spacingAndGlyphs">Molise</text>
<text x="116.33" y="265.70" transform="rotate(.05 116.3 265.7)" font-size="5.78" fill="#000" text-anchor="end" textLength="6.24" lengthAdjust="spacingAndGlyphs">29</text>
<text x="161.72" y="265.70" transform="rotate(.05 161.7 265.7)" font-size="5.78" fill="#000" text-anchor="end">9</text>
<text x="207.10" y="265.70" transform="rotate(.05 207.1 265.7)" font-size="5.78" fill="#000" text-anchor="end">0</text>
<text x="252.49" y="265.70" transform="rotate(.05 252.5 265.7)" font-size="5.78" fill="#000" text-anchor="end" textLength="9.35" lengthAdjust="spacingAndGlyphs">511</text>
<text x="297.87" y="265.70" transform="rotate(.05 297.9 265.7)" font-size="5.78" fill="#000" text-anchor="end" textLength="9.35" lengthAdjust="spacingAndGlyphs">549</text>
<text x="343.26" y="265.70" transform="rotate(.05 343.3 265.7)" font-size="5.78" fill="#000" text-anchor="end" textLength="17.14" lengthAdjust="spacingAndGlyphs">12.316</text>
<text x="388.64" y="265.70" transform="rotate(.05 388.6 265.7)" font-size="5.78" fill="#000" text-anchor="end" textLength="9.35" lengthAdjust="spacingAndGlyphs">479</text>
<text x="434.02" y="265.70" transform="rotate(.05 434.0 265.7)" font-size="5.78" fill="#000" text-anchor="end" textLength="17.14" lengthAdjust="spacingAndGlyphs">13.344</text>
<text x="479.41" y="265.70" transform="rotate(.05 479.4 265.7)" font-size="5.78" fill="#000" text-anchor="end">0</text>
<text x="524.79" y="265.70" transform="rotate(.05 524.8 265.7)" font-size="5.78" fill="#000" text-anchor="end" textLength="17.14" lengthAdjust="spacingAndGlyphs">13.344</text>
<text x="570.18" y="265.70" transform="rotate(.05 570.2 265.7)" font-size="5.78" fill="#000" text-anchor="end" textLength="6.24" lengthAdjust="spacingAndGlyphs">30</text>
<text x="615.56" y="265.70" transform="rotate(.05 615.6 265.7)" font-size="5.78" fill="#000" text-anchor="end" textLength="20.26" lengthAdjust="spacingAndGlyphs">185.269</text>
<text x="660.95" y="265.70" transform="rotate(.05 660.9 265.7)" font-size="5.78" fill="#000" text-anchor="end" textLength="20.26" lengthAdjust="spacingAndGlyphs">204.788</text>
<text x="706.33" y="265.70" transform="rotate(.05 706.3 265.7)" font-size="5.78" fill="#000" text-anchor="end" textLength="17.14" lengthAdjust="spacingAndGlyphs">12.728</text>
<text x="751.72" y="265.70" transform="rotate(.05 751.7 265.7)" font-size="5.78" fill="#000" text-anchor="end" textLength="20.26" lengthAdjust="spacingAndGlyphs">217.516</text>
<text x="797.10" y="265.70" transform="rotate(.05 797.1 265.7)" font-size="5.78" fill="#000" text-anchor="end" textLength="9.35" lengthAdjust="spacingAndGlyphs">888</text>
<text y="273.55" transform="rotate(.05 2.0 273.5)" font-size="5.78" fill="#000"><tspan x="2.00" textLength="12.31" lengthAdjust="spacingAndGlyphs">Valle</tspan> <tspan x="15.70" textLength="18.80" lengthAdjust="spacingAndGlyphs">d&#x27;Aosta</tspan></text>
<text x="116.33" y="273.55" transform="rotate(.05 116.3 273.5)" font-size="5.78" fill="#000" text-anchor="end" textLength="6.24" lengthAdjust="spacingAndGlyphs">37</text>
<text x="161.72" y="273.55" transform="rotate(.05 161.7 273.5)" font-size="5.78" fill="#000" text-anchor="end">9</text>
<text x="207.10" y="273.55" transform="rotate(.05 207.1 273.5)" font-size="5.78" fill="#000" text-anchor="end">2</text>
<text x="252.49" y="273.55" transform="rotate(.05 252.5 273.5)" font-size="5.78" fill="#000" text-anchor="end" textLength="9.35" lengthAdjust="spacingAndGlyphs">584</text>
<text x="297.87" y="273.55" transform="rotate(.05 297.9 273.5)" font-size="5.78" fill="#000" text-anchor="end" textLength="9.35" lengthAdjust="spacingAndGlyphs">630</text>
<text x="343.26" y="273.55" transform="rotate(.05 343.3 273.5)" font-size="5.78" fill="#000" text-anchor="end" textLength="14.02" lengthAdjust="spacingAndGlyphs">9.988</text>
<text x="388.64" y="273.55" transform="rotate(.05 388.6 273.5)" font-size="5.78" fill="#000" text-anchor="end" textLength="9.35" lengthAdjust="spacingAndGlyphs">460</text>
<text x="434.02" y="273.55" transform="rotate(.05 434.0 273.5)" font-size="5.78" fill="#000" text-anchor="end" textLength="17.14" lengthAdjust="spacingAndGlyphs">10.517</text>
<text x="479.41" y="273.55" transform="rotate(.05 479.4 273.5)" font-size="5.78" fill="#000" text-anchor="end" textLength="9.35" lengthAdjust="spacingAndGlyphs">561</text>
<text x="524.79" y="273.55" transform="rotate(.05 524.8 273.5)" font-size="5.78" fill="#000" text-anchor="end" textLength="17.14" lengthAdjust="spacingAndGlyphs">11.078</text>
<text x="570.18" y="273.55" transform="rotate(.05 570.2 273.5)" font-size="5.78" fill="#000" text-anchor="end" textLength="6.24" lengthAdjust="spacingAndGlyphs">12</text>
<text x="615.56" y="273.55" transform="rotate(.05 615.6 273.5)" font-size="5.78" fill="#000" text-anchor="end" textLength="17.14" lengthAdjust="spacingAndGlyphs">58.622</text>
<text x="660.95" y="273.55" transform="rotate(.05 660.9 273.5)" font-size="5.78" fill="#000" text-anchor="end" textLength="17.14" lengthAdjust="spacingAndGlyphs">91.484</text>
<text x="706.33" y="273.55" transform="rotate(.05 706.3 273.5)" font-size="5.78" fill="#000" text-anchor="end" textLength="17.14" lengthAdjust="spacingAndGlyphs">25.187</text>
<text x="751.72" y="273.55" transform="rotate(.05 751.7 273.5)" font-size="5.78" fill="#000" text-anchor="end" textLength="20.26" lengthAdjust="spacingAndGlyphs">116.671</text>
<text x="797.10" y="273.55" transform="rotate(.05 797.1 273.5)" font-size="5.78" fill="#000" text-anchor="end" textLength="9.35" lengthAdjust="spacingAndGlyphs">512</text>
<text x="36.00" y="283.50" transform="rotate(.05 36.0 283.5)" font-size="5.78" font-weight="bold" fill="#000" text-anchor="middle" textLength="19.58" lengthAdjust="spacingAndGlyphs">TOTALE</text>
<text x="116.33" y="283.65" transform="rotate(.05 116.3 283.7)" font-size="5.78" font-weight="bold" fill="#000" text-anchor="end" textLength="17.23" lengthAdjust="spacingAndGlyphs">17.520</text>
<text x="161.72" y="283.65" transform="rotate(.05 161.7 283.7)" font-size="5.78" font-weight="bold" fill="#000" text-anchor="end" textLength="14.11" lengthAdjust="spacingAndGlyphs">2.368</text>
<text x="207.10" y="283.65" transform="rotate(.05 207.1 283.7)" font-size="5.78" font-weight="bold" fill="#000" text-anchor="end" textLength="9.35" lengthAdjust="spacingAndGlyphs">142</text>
<text x="252.49" y="283.65" transform="rotate(.05 252.5 283.7)" font-size="5.78" font-weight="bold" fill="#000" text-anchor="end" textLength="20.35" lengthAdjust="spacingAndGlyphs">387.241</text>
<text x="297.87" y="283.65" transform="rotate(.05 297.9 283.7)" font-size="5.78" font-weight="bold" fill="#000" text-anchor="end" textLength="20.35" lengthAdjust="spacingAndGlyphs">407.129</text>
<text x="343.26" y="283.65" transform="rotate(.05 343.3 283.7)" font-size="5.78" font-weight="bold" fill="#000" text-anchor="end" textLength="25.11" lengthAdjust="spacingAndGlyphs">3.541.266</text>
<text x="388.64" y="283.65" transform="rotate(.05 388.6 283.7)" font-size="5.78" font-weight="bold" fill="#000" text-anchor="end" textLength="20.35" lengthAdjust="spacingAndGlyphs">122.005</text>
<text x="434.02" y="283.65" transform="rotate(.05 434.0 283.7)" font-size="5.78" font-weight="bold" fill="#000" text-anchor="end" textLength="25.11" lengthAdjust="spacingAndGlyphs">3.929.071</text>
<text x="479.41" y="283.65" transform="rotate(.05 479.4 283.7)" font-size="5.78" font-weight="bold" fill="#000" text-anchor="end" textLength="20.35" lengthAdjust="spacingAndGlyphs">141.329</text>
<text x="524.79" y="283.65" transform="rotate(.05 524.8 283.7)" font-size="5.78" font-weight="bold" fill="#000" text-anchor="end" textLength="25.11" lengthAdjust="spacingAndGlyphs">4.070.400</text>
<text x="570.18" y="283.65" transform="rotate(.05 570.2 283.7)" font-size="5.78" font-weight="bold" fill="#000" text-anchor="end" textLength="17.23" lengthAdjust="spacingAndGlyphs">10.585</text>
<text x="615.56" y="283.65" transform="rotate(.05 615.6 283.7)" font-size="5.78" font-weight="bold" fill="#000" text-anchor="end" textLength="28.23" lengthAdjust="spacingAndGlyphs">26.124.917</text>
<text x="660.95" y="283.65" transform="rotate(.05 660.9 283.7)" font-size="5.78" font-weight="bold" fill="#000" text-anchor="end" textLength="28.23" lengthAdjust="spacingAndGlyphs">45.876.644</text>
<text x="706.33" y="283.65" transform="rotate(.05 706.3 283.7)" font-size="5.78" font-weight="bold" fill="#000" text-anchor="end" textLength="28.23" lengthAdjust="spacingAndGlyphs">14.002.686</text>
<text x="751.72" y="283.65" transform="rotate(.05 751.7 283.7)" font-size="5.78" font-weight="bold" fill="#000" text-anchor="end" textLength="28.23" lengthAdjust="spacingAndGlyphs">59.879.330</text>
<text x="797.10" y="283.65" transform="rotate(.05 797.1 283.7)" font-size="5.78" font-weight="bold" fill="#000" text-anchor="end" textLength="20.35" lengthAdjust="spacingAndGlyphs">327.169</text>
<text x="2.00" y="303.75" transform="rotate(.05 2.0 303.8)" font-size="5.78" fill="#222" textLength="13.99" lengthAdjust="spacingAndGlyphs">Note:</text>
<text y="315.60" transform="rotate(.05 2.0 315.6)" font-size="4.50" fill="#222"><tspan x="2.00" textLength="4.31" lengthAdjust="spacingAndGlyphs">La</tspan> <tspan x="7.39" textLength="15.76" lengthAdjust="spacingAndGlyphs">Regione</tspan> <tspan x="24.24" textLength="11.75" lengthAdjust="spacingAndGlyphs">Emilia</tspan> <tspan x="37.07" textLength="18.31" lengthAdjust="spacingAndGlyphs">Romagna</tspan> <tspan x="56.46" textLength="18.82" lengthAdjust="spacingAndGlyphs">comunica</tspan> <tspan x="76.37" textLength="6.93" lengthAdjust="spacingAndGlyphs">che</tspan> <tspan x="84.38" textLength="9.44" lengthAdjust="spacingAndGlyphs">sono</tspan> <tspan x="94.90" textLength="8.47" lengthAdjust="spacingAndGlyphs">stati</tspan> <tspan x="104.45" textLength="17.01" lengthAdjust="spacingAndGlyphs">eliminati</tspan> <tspan x="122.55">6</tspan> <tspan x="126.06" textLength="8.49" lengthAdjust="spacingAndGlyphs">casi,</tspan> <tspan x="135.63" textLength="13.97" lengthAdjust="spacingAndGlyphs">positivi</tspan> <tspan x="150.69">a</tspan> <tspan x="154.06" textLength="7.47" lengthAdjust="spacingAndGlyphs">test</tspan> <tspan x="162.61" textLength="20.31" lengthAdjust="spacingAndGlyphs">antigenico</tspan> <tspan x="184.01" textLength="6.12" lengthAdjust="spacingAndGlyphs">ma</tspan> <tspan x="191.21" textLength="7.55" lengthAdjust="spacingAndGlyphs">non</tspan> <tspan x="199.85" textLength="21.41" lengthAdjust="spacingAndGlyphs">confermati</tspan> <tspan x="222.34" textLength="4.81" lengthAdjust="spacingAndGlyphs">da</tspan> <tspan x="228.23" textLength="17.67" lengthAdjust="spacingAndGlyphs">tampone</tspan> <tspan x="246.98" textLength="23.04" lengthAdjust="spacingAndGlyphs">molecolare.</tspan></text>
</svg>
</body></html>
